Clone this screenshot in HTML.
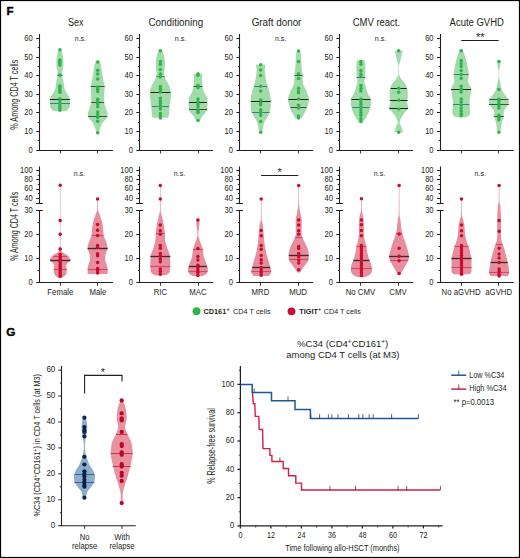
<!DOCTYPE html>
<html><head><meta charset="utf-8"><title>Figure</title>
<style>html,body{margin:0;padding:0;background:#fff;width:520px;height:558px;overflow:hidden;position:relative}</style>
</head><body>
<svg width="520" height="558" viewBox="0 0 520 558" style="position:absolute;left:0;top:0" font-family='"Liberation Sans", sans-serif'>
<rect x="0" y="0" width="520" height="558" fill="#ffffff"/>
<text x="6.5" y="15.1" font-size="11.5" text-anchor="start" font-weight="bold" fill="#000" stroke="#000" stroke-width="0.35">F</text>
<text x="6.3" y="336.3" font-size="11.8" text-anchor="start" font-weight="bold" fill="#000" stroke="#000" stroke-width="0.35">G</text>
<line x1="39.5" y1="34" x2="39.5" y2="150.7" stroke="#231f20" stroke-width="1.1"/>
<line x1="36.2" y1="150.5" x2="112.9" y2="150.5" stroke="#231f20" stroke-width="1.1"/>
<text x="32.8" y="152.6" font-size="8.3" text-anchor="end" font-weight="normal" fill="#231f20" textLength="4.23" lengthAdjust="spacingAndGlyphs">0</text>
<line x1="37.7" y1="140.5" x2="39.4" y2="140.5" stroke="#231f20" stroke-width="0.9"/>
<line x1="36.2" y1="131.5" x2="39.4" y2="131.5" stroke="#231f20" stroke-width="1.0"/>
<text x="32.8" y="134" font-size="8.3" text-anchor="end" font-weight="normal" fill="#231f20" textLength="8.45" lengthAdjust="spacingAndGlyphs">10</text>
<line x1="37.7" y1="122.5" x2="39.4" y2="122.5" stroke="#231f20" stroke-width="0.9"/>
<line x1="36.2" y1="112.5" x2="39.4" y2="112.5" stroke="#231f20" stroke-width="1.0"/>
<text x="32.8" y="115.4" font-size="8.3" text-anchor="end" font-weight="normal" fill="#231f20" textLength="8.45" lengthAdjust="spacingAndGlyphs">20</text>
<line x1="37.7" y1="103.5" x2="39.4" y2="103.5" stroke="#231f20" stroke-width="0.9"/>
<line x1="36.2" y1="94.5" x2="39.4" y2="94.5" stroke="#231f20" stroke-width="1.0"/>
<text x="32.8" y="96.8" font-size="8.3" text-anchor="end" font-weight="normal" fill="#231f20" textLength="8.45" lengthAdjust="spacingAndGlyphs">30</text>
<line x1="37.7" y1="85.5" x2="39.4" y2="85.5" stroke="#231f20" stroke-width="0.9"/>
<line x1="36.2" y1="75.5" x2="39.4" y2="75.5" stroke="#231f20" stroke-width="1.0"/>
<text x="32.8" y="78.2" font-size="8.3" text-anchor="end" font-weight="normal" fill="#231f20" textLength="8.45" lengthAdjust="spacingAndGlyphs">40</text>
<line x1="37.7" y1="66.5" x2="39.4" y2="66.5" stroke="#231f20" stroke-width="0.9"/>
<line x1="36.2" y1="57.5" x2="39.4" y2="57.5" stroke="#231f20" stroke-width="1.0"/>
<text x="32.8" y="59.6" font-size="8.3" text-anchor="end" font-weight="normal" fill="#231f20" textLength="8.45" lengthAdjust="spacingAndGlyphs">50</text>
<line x1="37.7" y1="47.5" x2="39.4" y2="47.5" stroke="#231f20" stroke-width="0.9"/>
<line x1="36.2" y1="38.5" x2="39.4" y2="38.5" stroke="#231f20" stroke-width="1.0"/>
<text x="32.8" y="41" font-size="8.3" text-anchor="end" font-weight="normal" fill="#231f20" textLength="8.45" lengthAdjust="spacingAndGlyphs">60</text>
<line x1="60.5" y1="150.2" x2="60.5" y2="153.4" stroke="#231f20" stroke-width="0.9"/>
<line x1="97.5" y1="150.2" x2="97.5" y2="153.4" stroke="#231f20" stroke-width="0.9"/>
<line x1="39.5" y1="166.5" x2="39.5" y2="203.5" stroke="#231f20" stroke-width="1.1"/>
<line x1="36" y1="203.5" x2="42.8" y2="203.5" stroke="#231f20" stroke-width="1.0"/>
<line x1="36.2" y1="198.5" x2="39.4" y2="198.5" stroke="#231f20" stroke-width="1.0"/>
<text x="32.8" y="200.8" font-size="8.3" text-anchor="end" font-weight="normal" fill="#231f20" textLength="8.45" lengthAdjust="spacingAndGlyphs">40</text>
<line x1="37.7" y1="193.5" x2="39.4" y2="193.5" stroke="#231f20" stroke-width="0.9"/>
<line x1="36.2" y1="189.5" x2="39.4" y2="189.5" stroke="#231f20" stroke-width="1.0"/>
<text x="32.8" y="191.47" font-size="8.3" text-anchor="end" font-weight="normal" fill="#231f20" textLength="8.45" lengthAdjust="spacingAndGlyphs">60</text>
<line x1="37.7" y1="184.5" x2="39.4" y2="184.5" stroke="#231f20" stroke-width="0.9"/>
<line x1="36.2" y1="179.5" x2="39.4" y2="179.5" stroke="#231f20" stroke-width="1.0"/>
<text x="32.8" y="182.13" font-size="8.3" text-anchor="end" font-weight="normal" fill="#231f20" textLength="8.45" lengthAdjust="spacingAndGlyphs">80</text>
<line x1="37.7" y1="175.5" x2="39.4" y2="175.5" stroke="#231f20" stroke-width="0.9"/>
<line x1="36.2" y1="170.5" x2="39.4" y2="170.5" stroke="#231f20" stroke-width="1.0"/>
<text x="32.8" y="172.8" font-size="8.3" text-anchor="end" font-weight="normal" fill="#231f20" textLength="12.68" lengthAdjust="spacingAndGlyphs">100</text>
<line x1="39.5" y1="210" x2="39.5" y2="283" stroke="#231f20" stroke-width="1.1"/>
<line x1="36" y1="210.5" x2="42.8" y2="210.5" stroke="#231f20" stroke-width="1.0"/>
<line x1="36.2" y1="282.5" x2="112.9" y2="282.5" stroke="#231f20" stroke-width="1.1"/>
<text x="32.8" y="284.9" font-size="8.3" text-anchor="end" font-weight="normal" fill="#231f20" textLength="4.23" lengthAdjust="spacingAndGlyphs">0</text>
<line x1="37.7" y1="270.5" x2="39.4" y2="270.5" stroke="#231f20" stroke-width="0.9"/>
<line x1="36.2" y1="258.5" x2="39.4" y2="258.5" stroke="#231f20" stroke-width="1.0"/>
<text x="32.8" y="260.9" font-size="8.3" text-anchor="end" font-weight="normal" fill="#231f20" textLength="8.45" lengthAdjust="spacingAndGlyphs">10</text>
<line x1="37.7" y1="246.5" x2="39.4" y2="246.5" stroke="#231f20" stroke-width="0.9"/>
<line x1="36.2" y1="234.5" x2="39.4" y2="234.5" stroke="#231f20" stroke-width="1.0"/>
<text x="32.8" y="236.9" font-size="8.3" text-anchor="end" font-weight="normal" fill="#231f20" textLength="8.45" lengthAdjust="spacingAndGlyphs">20</text>
<line x1="37.7" y1="222.5" x2="39.4" y2="222.5" stroke="#231f20" stroke-width="0.9"/>
<text x="32.8" y="212.9" font-size="8.3" text-anchor="end" font-weight="normal" fill="#231f20" textLength="8.45" lengthAdjust="spacingAndGlyphs">30</text>
<line x1="60.5" y1="282.5" x2="60.5" y2="285.7" stroke="#231f20" stroke-width="0.9"/>
<line x1="97.5" y1="282.5" x2="97.5" y2="285.7" stroke="#231f20" stroke-width="0.9"/>
<line x1="139.5" y1="34" x2="139.5" y2="150.7" stroke="#231f20" stroke-width="1.1"/>
<line x1="136.3" y1="150.5" x2="213" y2="150.5" stroke="#231f20" stroke-width="1.1"/>
<text x="132.9" y="152.6" font-size="8.3" text-anchor="end" font-weight="normal" fill="#231f20" textLength="4.23" lengthAdjust="spacingAndGlyphs">0</text>
<line x1="137.8" y1="140.5" x2="139.5" y2="140.5" stroke="#231f20" stroke-width="0.9"/>
<line x1="136.3" y1="131.5" x2="139.5" y2="131.5" stroke="#231f20" stroke-width="1.0"/>
<text x="132.9" y="134" font-size="8.3" text-anchor="end" font-weight="normal" fill="#231f20" textLength="8.45" lengthAdjust="spacingAndGlyphs">10</text>
<line x1="137.8" y1="122.5" x2="139.5" y2="122.5" stroke="#231f20" stroke-width="0.9"/>
<line x1="136.3" y1="112.5" x2="139.5" y2="112.5" stroke="#231f20" stroke-width="1.0"/>
<text x="132.9" y="115.4" font-size="8.3" text-anchor="end" font-weight="normal" fill="#231f20" textLength="8.45" lengthAdjust="spacingAndGlyphs">20</text>
<line x1="137.8" y1="103.5" x2="139.5" y2="103.5" stroke="#231f20" stroke-width="0.9"/>
<line x1="136.3" y1="94.5" x2="139.5" y2="94.5" stroke="#231f20" stroke-width="1.0"/>
<text x="132.9" y="96.8" font-size="8.3" text-anchor="end" font-weight="normal" fill="#231f20" textLength="8.45" lengthAdjust="spacingAndGlyphs">30</text>
<line x1="137.8" y1="85.5" x2="139.5" y2="85.5" stroke="#231f20" stroke-width="0.9"/>
<line x1="136.3" y1="75.5" x2="139.5" y2="75.5" stroke="#231f20" stroke-width="1.0"/>
<text x="132.9" y="78.2" font-size="8.3" text-anchor="end" font-weight="normal" fill="#231f20" textLength="8.45" lengthAdjust="spacingAndGlyphs">40</text>
<line x1="137.8" y1="66.5" x2="139.5" y2="66.5" stroke="#231f20" stroke-width="0.9"/>
<line x1="136.3" y1="57.5" x2="139.5" y2="57.5" stroke="#231f20" stroke-width="1.0"/>
<text x="132.9" y="59.6" font-size="8.3" text-anchor="end" font-weight="normal" fill="#231f20" textLength="8.45" lengthAdjust="spacingAndGlyphs">50</text>
<line x1="137.8" y1="47.5" x2="139.5" y2="47.5" stroke="#231f20" stroke-width="0.9"/>
<line x1="136.3" y1="38.5" x2="139.5" y2="38.5" stroke="#231f20" stroke-width="1.0"/>
<text x="132.9" y="41" font-size="8.3" text-anchor="end" font-weight="normal" fill="#231f20" textLength="8.45" lengthAdjust="spacingAndGlyphs">60</text>
<line x1="160.5" y1="150.2" x2="160.5" y2="153.4" stroke="#231f20" stroke-width="0.9"/>
<line x1="198.5" y1="150.2" x2="198.5" y2="153.4" stroke="#231f20" stroke-width="0.9"/>
<line x1="139.5" y1="166.5" x2="139.5" y2="203.5" stroke="#231f20" stroke-width="1.1"/>
<line x1="136.1" y1="203.5" x2="142.9" y2="203.5" stroke="#231f20" stroke-width="1.0"/>
<line x1="136.3" y1="198.5" x2="139.5" y2="198.5" stroke="#231f20" stroke-width="1.0"/>
<text x="132.9" y="200.8" font-size="8.3" text-anchor="end" font-weight="normal" fill="#231f20" textLength="8.45" lengthAdjust="spacingAndGlyphs">40</text>
<line x1="137.8" y1="193.5" x2="139.5" y2="193.5" stroke="#231f20" stroke-width="0.9"/>
<line x1="136.3" y1="189.5" x2="139.5" y2="189.5" stroke="#231f20" stroke-width="1.0"/>
<text x="132.9" y="191.47" font-size="8.3" text-anchor="end" font-weight="normal" fill="#231f20" textLength="8.45" lengthAdjust="spacingAndGlyphs">60</text>
<line x1="137.8" y1="184.5" x2="139.5" y2="184.5" stroke="#231f20" stroke-width="0.9"/>
<line x1="136.3" y1="179.5" x2="139.5" y2="179.5" stroke="#231f20" stroke-width="1.0"/>
<text x="132.9" y="182.13" font-size="8.3" text-anchor="end" font-weight="normal" fill="#231f20" textLength="8.45" lengthAdjust="spacingAndGlyphs">80</text>
<line x1="137.8" y1="175.5" x2="139.5" y2="175.5" stroke="#231f20" stroke-width="0.9"/>
<line x1="136.3" y1="170.5" x2="139.5" y2="170.5" stroke="#231f20" stroke-width="1.0"/>
<text x="132.9" y="172.8" font-size="8.3" text-anchor="end" font-weight="normal" fill="#231f20" textLength="12.68" lengthAdjust="spacingAndGlyphs">100</text>
<line x1="139.5" y1="210" x2="139.5" y2="283" stroke="#231f20" stroke-width="1.1"/>
<line x1="136.1" y1="210.5" x2="142.9" y2="210.5" stroke="#231f20" stroke-width="1.0"/>
<line x1="136.3" y1="282.5" x2="213" y2="282.5" stroke="#231f20" stroke-width="1.1"/>
<text x="132.9" y="284.9" font-size="8.3" text-anchor="end" font-weight="normal" fill="#231f20" textLength="4.23" lengthAdjust="spacingAndGlyphs">0</text>
<line x1="137.8" y1="270.5" x2="139.5" y2="270.5" stroke="#231f20" stroke-width="0.9"/>
<line x1="136.3" y1="258.5" x2="139.5" y2="258.5" stroke="#231f20" stroke-width="1.0"/>
<text x="132.9" y="260.9" font-size="8.3" text-anchor="end" font-weight="normal" fill="#231f20" textLength="8.45" lengthAdjust="spacingAndGlyphs">10</text>
<line x1="137.8" y1="246.5" x2="139.5" y2="246.5" stroke="#231f20" stroke-width="0.9"/>
<line x1="136.3" y1="234.5" x2="139.5" y2="234.5" stroke="#231f20" stroke-width="1.0"/>
<text x="132.9" y="236.9" font-size="8.3" text-anchor="end" font-weight="normal" fill="#231f20" textLength="8.45" lengthAdjust="spacingAndGlyphs">20</text>
<line x1="137.8" y1="222.5" x2="139.5" y2="222.5" stroke="#231f20" stroke-width="0.9"/>
<text x="132.9" y="212.9" font-size="8.3" text-anchor="end" font-weight="normal" fill="#231f20" textLength="8.45" lengthAdjust="spacingAndGlyphs">30</text>
<line x1="160.5" y1="282.5" x2="160.5" y2="285.7" stroke="#231f20" stroke-width="0.9"/>
<line x1="198.5" y1="282.5" x2="198.5" y2="285.7" stroke="#231f20" stroke-width="0.9"/>
<line x1="239.5" y1="34" x2="239.5" y2="150.7" stroke="#231f20" stroke-width="1.1"/>
<line x1="236.4" y1="150.5" x2="313.1" y2="150.5" stroke="#231f20" stroke-width="1.1"/>
<text x="233" y="152.6" font-size="8.3" text-anchor="end" font-weight="normal" fill="#231f20" textLength="4.23" lengthAdjust="spacingAndGlyphs">0</text>
<line x1="237.9" y1="140.5" x2="239.6" y2="140.5" stroke="#231f20" stroke-width="0.9"/>
<line x1="236.4" y1="131.5" x2="239.6" y2="131.5" stroke="#231f20" stroke-width="1.0"/>
<text x="233" y="134" font-size="8.3" text-anchor="end" font-weight="normal" fill="#231f20" textLength="8.45" lengthAdjust="spacingAndGlyphs">10</text>
<line x1="237.9" y1="122.5" x2="239.6" y2="122.5" stroke="#231f20" stroke-width="0.9"/>
<line x1="236.4" y1="112.5" x2="239.6" y2="112.5" stroke="#231f20" stroke-width="1.0"/>
<text x="233" y="115.4" font-size="8.3" text-anchor="end" font-weight="normal" fill="#231f20" textLength="8.45" lengthAdjust="spacingAndGlyphs">20</text>
<line x1="237.9" y1="103.5" x2="239.6" y2="103.5" stroke="#231f20" stroke-width="0.9"/>
<line x1="236.4" y1="94.5" x2="239.6" y2="94.5" stroke="#231f20" stroke-width="1.0"/>
<text x="233" y="96.8" font-size="8.3" text-anchor="end" font-weight="normal" fill="#231f20" textLength="8.45" lengthAdjust="spacingAndGlyphs">30</text>
<line x1="237.9" y1="85.5" x2="239.6" y2="85.5" stroke="#231f20" stroke-width="0.9"/>
<line x1="236.4" y1="75.5" x2="239.6" y2="75.5" stroke="#231f20" stroke-width="1.0"/>
<text x="233" y="78.2" font-size="8.3" text-anchor="end" font-weight="normal" fill="#231f20" textLength="8.45" lengthAdjust="spacingAndGlyphs">40</text>
<line x1="237.9" y1="66.5" x2="239.6" y2="66.5" stroke="#231f20" stroke-width="0.9"/>
<line x1="236.4" y1="57.5" x2="239.6" y2="57.5" stroke="#231f20" stroke-width="1.0"/>
<text x="233" y="59.6" font-size="8.3" text-anchor="end" font-weight="normal" fill="#231f20" textLength="8.45" lengthAdjust="spacingAndGlyphs">50</text>
<line x1="237.9" y1="47.5" x2="239.6" y2="47.5" stroke="#231f20" stroke-width="0.9"/>
<line x1="236.4" y1="38.5" x2="239.6" y2="38.5" stroke="#231f20" stroke-width="1.0"/>
<text x="233" y="41" font-size="8.3" text-anchor="end" font-weight="normal" fill="#231f20" textLength="8.45" lengthAdjust="spacingAndGlyphs">60</text>
<line x1="260.5" y1="150.2" x2="260.5" y2="153.4" stroke="#231f20" stroke-width="0.9"/>
<line x1="298.5" y1="150.2" x2="298.5" y2="153.4" stroke="#231f20" stroke-width="0.9"/>
<line x1="239.5" y1="166.5" x2="239.5" y2="203.5" stroke="#231f20" stroke-width="1.1"/>
<line x1="236.2" y1="203.5" x2="243" y2="203.5" stroke="#231f20" stroke-width="1.0"/>
<line x1="236.4" y1="198.5" x2="239.6" y2="198.5" stroke="#231f20" stroke-width="1.0"/>
<text x="233" y="200.8" font-size="8.3" text-anchor="end" font-weight="normal" fill="#231f20" textLength="8.45" lengthAdjust="spacingAndGlyphs">40</text>
<line x1="237.9" y1="193.5" x2="239.6" y2="193.5" stroke="#231f20" stroke-width="0.9"/>
<line x1="236.4" y1="189.5" x2="239.6" y2="189.5" stroke="#231f20" stroke-width="1.0"/>
<text x="233" y="191.47" font-size="8.3" text-anchor="end" font-weight="normal" fill="#231f20" textLength="8.45" lengthAdjust="spacingAndGlyphs">60</text>
<line x1="237.9" y1="184.5" x2="239.6" y2="184.5" stroke="#231f20" stroke-width="0.9"/>
<line x1="236.4" y1="179.5" x2="239.6" y2="179.5" stroke="#231f20" stroke-width="1.0"/>
<text x="233" y="182.13" font-size="8.3" text-anchor="end" font-weight="normal" fill="#231f20" textLength="8.45" lengthAdjust="spacingAndGlyphs">80</text>
<line x1="237.9" y1="175.5" x2="239.6" y2="175.5" stroke="#231f20" stroke-width="0.9"/>
<line x1="236.4" y1="170.5" x2="239.6" y2="170.5" stroke="#231f20" stroke-width="1.0"/>
<text x="233" y="172.8" font-size="8.3" text-anchor="end" font-weight="normal" fill="#231f20" textLength="12.68" lengthAdjust="spacingAndGlyphs">100</text>
<line x1="239.5" y1="210" x2="239.5" y2="283" stroke="#231f20" stroke-width="1.1"/>
<line x1="236.2" y1="210.5" x2="243" y2="210.5" stroke="#231f20" stroke-width="1.0"/>
<line x1="236.4" y1="282.5" x2="313.1" y2="282.5" stroke="#231f20" stroke-width="1.1"/>
<text x="233" y="284.9" font-size="8.3" text-anchor="end" font-weight="normal" fill="#231f20" textLength="4.23" lengthAdjust="spacingAndGlyphs">0</text>
<line x1="237.9" y1="270.5" x2="239.6" y2="270.5" stroke="#231f20" stroke-width="0.9"/>
<line x1="236.4" y1="258.5" x2="239.6" y2="258.5" stroke="#231f20" stroke-width="1.0"/>
<text x="233" y="260.9" font-size="8.3" text-anchor="end" font-weight="normal" fill="#231f20" textLength="8.45" lengthAdjust="spacingAndGlyphs">10</text>
<line x1="237.9" y1="246.5" x2="239.6" y2="246.5" stroke="#231f20" stroke-width="0.9"/>
<line x1="236.4" y1="234.5" x2="239.6" y2="234.5" stroke="#231f20" stroke-width="1.0"/>
<text x="233" y="236.9" font-size="8.3" text-anchor="end" font-weight="normal" fill="#231f20" textLength="8.45" lengthAdjust="spacingAndGlyphs">20</text>
<line x1="237.9" y1="222.5" x2="239.6" y2="222.5" stroke="#231f20" stroke-width="0.9"/>
<text x="233" y="212.9" font-size="8.3" text-anchor="end" font-weight="normal" fill="#231f20" textLength="8.45" lengthAdjust="spacingAndGlyphs">30</text>
<line x1="260.5" y1="282.5" x2="260.5" y2="285.7" stroke="#231f20" stroke-width="0.9"/>
<line x1="298.5" y1="282.5" x2="298.5" y2="285.7" stroke="#231f20" stroke-width="0.9"/>
<line x1="339.5" y1="34" x2="339.5" y2="150.7" stroke="#231f20" stroke-width="1.1"/>
<line x1="336.3" y1="150.5" x2="413" y2="150.5" stroke="#231f20" stroke-width="1.1"/>
<text x="332.9" y="152.6" font-size="8.3" text-anchor="end" font-weight="normal" fill="#231f20" textLength="4.23" lengthAdjust="spacingAndGlyphs">0</text>
<line x1="337.8" y1="140.5" x2="339.5" y2="140.5" stroke="#231f20" stroke-width="0.9"/>
<line x1="336.3" y1="131.5" x2="339.5" y2="131.5" stroke="#231f20" stroke-width="1.0"/>
<text x="332.9" y="134" font-size="8.3" text-anchor="end" font-weight="normal" fill="#231f20" textLength="8.45" lengthAdjust="spacingAndGlyphs">10</text>
<line x1="337.8" y1="122.5" x2="339.5" y2="122.5" stroke="#231f20" stroke-width="0.9"/>
<line x1="336.3" y1="112.5" x2="339.5" y2="112.5" stroke="#231f20" stroke-width="1.0"/>
<text x="332.9" y="115.4" font-size="8.3" text-anchor="end" font-weight="normal" fill="#231f20" textLength="8.45" lengthAdjust="spacingAndGlyphs">20</text>
<line x1="337.8" y1="103.5" x2="339.5" y2="103.5" stroke="#231f20" stroke-width="0.9"/>
<line x1="336.3" y1="94.5" x2="339.5" y2="94.5" stroke="#231f20" stroke-width="1.0"/>
<text x="332.9" y="96.8" font-size="8.3" text-anchor="end" font-weight="normal" fill="#231f20" textLength="8.45" lengthAdjust="spacingAndGlyphs">30</text>
<line x1="337.8" y1="85.5" x2="339.5" y2="85.5" stroke="#231f20" stroke-width="0.9"/>
<line x1="336.3" y1="75.5" x2="339.5" y2="75.5" stroke="#231f20" stroke-width="1.0"/>
<text x="332.9" y="78.2" font-size="8.3" text-anchor="end" font-weight="normal" fill="#231f20" textLength="8.45" lengthAdjust="spacingAndGlyphs">40</text>
<line x1="337.8" y1="66.5" x2="339.5" y2="66.5" stroke="#231f20" stroke-width="0.9"/>
<line x1="336.3" y1="57.5" x2="339.5" y2="57.5" stroke="#231f20" stroke-width="1.0"/>
<text x="332.9" y="59.6" font-size="8.3" text-anchor="end" font-weight="normal" fill="#231f20" textLength="8.45" lengthAdjust="spacingAndGlyphs">50</text>
<line x1="337.8" y1="47.5" x2="339.5" y2="47.5" stroke="#231f20" stroke-width="0.9"/>
<line x1="336.3" y1="38.5" x2="339.5" y2="38.5" stroke="#231f20" stroke-width="1.0"/>
<text x="332.9" y="41" font-size="8.3" text-anchor="end" font-weight="normal" fill="#231f20" textLength="8.45" lengthAdjust="spacingAndGlyphs">60</text>
<line x1="360.5" y1="150.2" x2="360.5" y2="153.4" stroke="#231f20" stroke-width="0.9"/>
<line x1="398.5" y1="150.2" x2="398.5" y2="153.4" stroke="#231f20" stroke-width="0.9"/>
<line x1="339.5" y1="166.5" x2="339.5" y2="203.5" stroke="#231f20" stroke-width="1.1"/>
<line x1="336.1" y1="203.5" x2="342.9" y2="203.5" stroke="#231f20" stroke-width="1.0"/>
<line x1="336.3" y1="198.5" x2="339.5" y2="198.5" stroke="#231f20" stroke-width="1.0"/>
<text x="332.9" y="200.8" font-size="8.3" text-anchor="end" font-weight="normal" fill="#231f20" textLength="8.45" lengthAdjust="spacingAndGlyphs">40</text>
<line x1="337.8" y1="193.5" x2="339.5" y2="193.5" stroke="#231f20" stroke-width="0.9"/>
<line x1="336.3" y1="189.5" x2="339.5" y2="189.5" stroke="#231f20" stroke-width="1.0"/>
<text x="332.9" y="191.47" font-size="8.3" text-anchor="end" font-weight="normal" fill="#231f20" textLength="8.45" lengthAdjust="spacingAndGlyphs">60</text>
<line x1="337.8" y1="184.5" x2="339.5" y2="184.5" stroke="#231f20" stroke-width="0.9"/>
<line x1="336.3" y1="179.5" x2="339.5" y2="179.5" stroke="#231f20" stroke-width="1.0"/>
<text x="332.9" y="182.13" font-size="8.3" text-anchor="end" font-weight="normal" fill="#231f20" textLength="8.45" lengthAdjust="spacingAndGlyphs">80</text>
<line x1="337.8" y1="175.5" x2="339.5" y2="175.5" stroke="#231f20" stroke-width="0.9"/>
<line x1="336.3" y1="170.5" x2="339.5" y2="170.5" stroke="#231f20" stroke-width="1.0"/>
<text x="332.9" y="172.8" font-size="8.3" text-anchor="end" font-weight="normal" fill="#231f20" textLength="12.68" lengthAdjust="spacingAndGlyphs">100</text>
<line x1="339.5" y1="210" x2="339.5" y2="283" stroke="#231f20" stroke-width="1.1"/>
<line x1="336.1" y1="210.5" x2="342.9" y2="210.5" stroke="#231f20" stroke-width="1.0"/>
<line x1="336.3" y1="282.5" x2="413" y2="282.5" stroke="#231f20" stroke-width="1.1"/>
<text x="332.9" y="284.9" font-size="8.3" text-anchor="end" font-weight="normal" fill="#231f20" textLength="4.23" lengthAdjust="spacingAndGlyphs">0</text>
<line x1="337.8" y1="270.5" x2="339.5" y2="270.5" stroke="#231f20" stroke-width="0.9"/>
<line x1="336.3" y1="258.5" x2="339.5" y2="258.5" stroke="#231f20" stroke-width="1.0"/>
<text x="332.9" y="260.9" font-size="8.3" text-anchor="end" font-weight="normal" fill="#231f20" textLength="8.45" lengthAdjust="spacingAndGlyphs">10</text>
<line x1="337.8" y1="246.5" x2="339.5" y2="246.5" stroke="#231f20" stroke-width="0.9"/>
<line x1="336.3" y1="234.5" x2="339.5" y2="234.5" stroke="#231f20" stroke-width="1.0"/>
<text x="332.9" y="236.9" font-size="8.3" text-anchor="end" font-weight="normal" fill="#231f20" textLength="8.45" lengthAdjust="spacingAndGlyphs">20</text>
<line x1="337.8" y1="222.5" x2="339.5" y2="222.5" stroke="#231f20" stroke-width="0.9"/>
<text x="332.9" y="212.9" font-size="8.3" text-anchor="end" font-weight="normal" fill="#231f20" textLength="8.45" lengthAdjust="spacingAndGlyphs">30</text>
<line x1="360.5" y1="282.5" x2="360.5" y2="285.7" stroke="#231f20" stroke-width="0.9"/>
<line x1="398.5" y1="282.5" x2="398.5" y2="285.7" stroke="#231f20" stroke-width="0.9"/>
<line x1="440.5" y1="34" x2="440.5" y2="150.7" stroke="#231f20" stroke-width="1.1"/>
<line x1="437" y1="150.5" x2="513.7" y2="150.5" stroke="#231f20" stroke-width="1.1"/>
<text x="433.6" y="152.6" font-size="8.3" text-anchor="end" font-weight="normal" fill="#231f20" textLength="4.23" lengthAdjust="spacingAndGlyphs">0</text>
<line x1="438.5" y1="140.5" x2="440.2" y2="140.5" stroke="#231f20" stroke-width="0.9"/>
<line x1="437" y1="131.5" x2="440.2" y2="131.5" stroke="#231f20" stroke-width="1.0"/>
<text x="433.6" y="134" font-size="8.3" text-anchor="end" font-weight="normal" fill="#231f20" textLength="8.45" lengthAdjust="spacingAndGlyphs">10</text>
<line x1="438.5" y1="122.5" x2="440.2" y2="122.5" stroke="#231f20" stroke-width="0.9"/>
<line x1="437" y1="112.5" x2="440.2" y2="112.5" stroke="#231f20" stroke-width="1.0"/>
<text x="433.6" y="115.4" font-size="8.3" text-anchor="end" font-weight="normal" fill="#231f20" textLength="8.45" lengthAdjust="spacingAndGlyphs">20</text>
<line x1="438.5" y1="103.5" x2="440.2" y2="103.5" stroke="#231f20" stroke-width="0.9"/>
<line x1="437" y1="94.5" x2="440.2" y2="94.5" stroke="#231f20" stroke-width="1.0"/>
<text x="433.6" y="96.8" font-size="8.3" text-anchor="end" font-weight="normal" fill="#231f20" textLength="8.45" lengthAdjust="spacingAndGlyphs">30</text>
<line x1="438.5" y1="85.5" x2="440.2" y2="85.5" stroke="#231f20" stroke-width="0.9"/>
<line x1="437" y1="75.5" x2="440.2" y2="75.5" stroke="#231f20" stroke-width="1.0"/>
<text x="433.6" y="78.2" font-size="8.3" text-anchor="end" font-weight="normal" fill="#231f20" textLength="8.45" lengthAdjust="spacingAndGlyphs">40</text>
<line x1="438.5" y1="66.5" x2="440.2" y2="66.5" stroke="#231f20" stroke-width="0.9"/>
<line x1="437" y1="57.5" x2="440.2" y2="57.5" stroke="#231f20" stroke-width="1.0"/>
<text x="433.6" y="59.6" font-size="8.3" text-anchor="end" font-weight="normal" fill="#231f20" textLength="8.45" lengthAdjust="spacingAndGlyphs">50</text>
<line x1="438.5" y1="47.5" x2="440.2" y2="47.5" stroke="#231f20" stroke-width="0.9"/>
<line x1="437" y1="38.5" x2="440.2" y2="38.5" stroke="#231f20" stroke-width="1.0"/>
<text x="433.6" y="41" font-size="8.3" text-anchor="end" font-weight="normal" fill="#231f20" textLength="8.45" lengthAdjust="spacingAndGlyphs">60</text>
<line x1="461.5" y1="150.2" x2="461.5" y2="153.4" stroke="#231f20" stroke-width="0.9"/>
<line x1="498.5" y1="150.2" x2="498.5" y2="153.4" stroke="#231f20" stroke-width="0.9"/>
<line x1="440.5" y1="166.5" x2="440.5" y2="203.5" stroke="#231f20" stroke-width="1.1"/>
<line x1="436.8" y1="203.5" x2="443.6" y2="203.5" stroke="#231f20" stroke-width="1.0"/>
<line x1="437" y1="198.5" x2="440.2" y2="198.5" stroke="#231f20" stroke-width="1.0"/>
<text x="433.6" y="200.8" font-size="8.3" text-anchor="end" font-weight="normal" fill="#231f20" textLength="8.45" lengthAdjust="spacingAndGlyphs">40</text>
<line x1="438.5" y1="193.5" x2="440.2" y2="193.5" stroke="#231f20" stroke-width="0.9"/>
<line x1="437" y1="189.5" x2="440.2" y2="189.5" stroke="#231f20" stroke-width="1.0"/>
<text x="433.6" y="191.47" font-size="8.3" text-anchor="end" font-weight="normal" fill="#231f20" textLength="8.45" lengthAdjust="spacingAndGlyphs">60</text>
<line x1="438.5" y1="184.5" x2="440.2" y2="184.5" stroke="#231f20" stroke-width="0.9"/>
<line x1="437" y1="179.5" x2="440.2" y2="179.5" stroke="#231f20" stroke-width="1.0"/>
<text x="433.6" y="182.13" font-size="8.3" text-anchor="end" font-weight="normal" fill="#231f20" textLength="8.45" lengthAdjust="spacingAndGlyphs">80</text>
<line x1="438.5" y1="175.5" x2="440.2" y2="175.5" stroke="#231f20" stroke-width="0.9"/>
<line x1="437" y1="170.5" x2="440.2" y2="170.5" stroke="#231f20" stroke-width="1.0"/>
<text x="433.6" y="172.8" font-size="8.3" text-anchor="end" font-weight="normal" fill="#231f20" textLength="12.68" lengthAdjust="spacingAndGlyphs">100</text>
<line x1="440.5" y1="210" x2="440.5" y2="283" stroke="#231f20" stroke-width="1.1"/>
<line x1="436.8" y1="210.5" x2="443.6" y2="210.5" stroke="#231f20" stroke-width="1.0"/>
<line x1="437" y1="282.5" x2="513.7" y2="282.5" stroke="#231f20" stroke-width="1.1"/>
<text x="433.6" y="284.9" font-size="8.3" text-anchor="end" font-weight="normal" fill="#231f20" textLength="4.23" lengthAdjust="spacingAndGlyphs">0</text>
<line x1="438.5" y1="270.5" x2="440.2" y2="270.5" stroke="#231f20" stroke-width="0.9"/>
<line x1="437" y1="258.5" x2="440.2" y2="258.5" stroke="#231f20" stroke-width="1.0"/>
<text x="433.6" y="260.9" font-size="8.3" text-anchor="end" font-weight="normal" fill="#231f20" textLength="8.45" lengthAdjust="spacingAndGlyphs">10</text>
<line x1="438.5" y1="246.5" x2="440.2" y2="246.5" stroke="#231f20" stroke-width="0.9"/>
<line x1="437" y1="234.5" x2="440.2" y2="234.5" stroke="#231f20" stroke-width="1.0"/>
<text x="433.6" y="236.9" font-size="8.3" text-anchor="end" font-weight="normal" fill="#231f20" textLength="8.45" lengthAdjust="spacingAndGlyphs">20</text>
<line x1="438.5" y1="222.5" x2="440.2" y2="222.5" stroke="#231f20" stroke-width="0.9"/>
<text x="433.6" y="212.9" font-size="8.3" text-anchor="end" font-weight="normal" fill="#231f20" textLength="8.45" lengthAdjust="spacingAndGlyphs">30</text>
<line x1="461.5" y1="282.5" x2="461.5" y2="285.7" stroke="#231f20" stroke-width="0.9"/>
<line x1="498.5" y1="282.5" x2="498.5" y2="285.7" stroke="#231f20" stroke-width="0.9"/>
<text x="75.75" y="25.6" font-size="10" text-anchor="middle" font-weight="normal" fill="#231f20" textLength="15.5" lengthAdjust="spacingAndGlyphs">Sex</text>
<text x="175.8" y="25.6" font-size="10" text-anchor="middle" font-weight="normal" fill="#231f20" textLength="54.6" lengthAdjust="spacingAndGlyphs">Conditioning</text>
<text x="276.55" y="25.6" font-size="10" text-anchor="middle" font-weight="normal" fill="#231f20" textLength="49.7" lengthAdjust="spacingAndGlyphs">Graft donor</text>
<text x="376.4" y="25.6" font-size="10" text-anchor="middle" font-weight="normal" fill="#231f20" textLength="47.4" lengthAdjust="spacingAndGlyphs">CMV react.</text>
<text x="476.75" y="25.6" font-size="10" text-anchor="middle" font-weight="normal" fill="#231f20" textLength="54.3" lengthAdjust="spacingAndGlyphs">Acute GVHD</text>
<text transform="translate(18.4 94.7) rotate(-90)" font-size="10.8" text-anchor="middle" fill="#231f20" textLength="70" lengthAdjust="spacingAndGlyphs">% Among CD4 T cells</text>
<text transform="translate(18.4 226.3) rotate(-90)" font-size="10.8" text-anchor="middle" fill="#231f20" textLength="69" lengthAdjust="spacingAndGlyphs">% Among CD4 T cells</text>
<text x="80.4" y="40.7" font-size="7" text-anchor="middle" font-weight="normal" fill="#231f20">n.s.</text>
<text x="79.4" y="175.7" font-size="7" text-anchor="middle" font-weight="normal" fill="#231f20">n.s.</text>
<text x="180.5" y="40.7" font-size="7" text-anchor="middle" font-weight="normal" fill="#231f20">n.s.</text>
<text x="179.5" y="175.7" font-size="7" text-anchor="middle" font-weight="normal" fill="#231f20">n.s.</text>
<text x="280.6" y="40.7" font-size="7" text-anchor="middle" font-weight="normal" fill="#231f20">n.s.</text>
<text x="380.5" y="40.7" font-size="7" text-anchor="middle" font-weight="normal" fill="#231f20">n.s.</text>
<text x="379.5" y="175.7" font-size="7" text-anchor="middle" font-weight="normal" fill="#231f20">n.s.</text>
<text x="480.2" y="175.7" font-size="7" text-anchor="middle" font-weight="normal" fill="#231f20">n.s.</text>
<line x1="461.2" y1="40.5" x2="498.6" y2="40.5" stroke="#231f20" stroke-width="1.0"/>
<text x="480.3" y="40.6" font-size="11" text-anchor="middle" font-weight="normal" fill="#231f20">**</text>
<line x1="261.1" y1="175.5" x2="298.4" y2="175.5" stroke="#231f20" stroke-width="1.0"/>
<text x="279.7" y="175.5" font-size="11" text-anchor="middle" font-weight="normal" fill="#231f20">*</text>
<text x="60.3" y="294.6" font-size="8.6" text-anchor="middle" font-weight="normal" fill="#231f20" textLength="26.01" lengthAdjust="spacingAndGlyphs">Female</text>
<text x="97.9" y="294.6" font-size="8.6" text-anchor="middle" font-weight="normal" fill="#231f20" textLength="16.91" lengthAdjust="spacingAndGlyphs">Male</text>
<text x="160.4" y="294.6" font-size="8.6" text-anchor="middle" font-weight="normal" fill="#231f20" textLength="13.43" lengthAdjust="spacingAndGlyphs">RIC</text>
<text x="198" y="294.6" font-size="8.6" text-anchor="middle" font-weight="normal" fill="#231f20" textLength="17.33" lengthAdjust="spacingAndGlyphs">MAC</text>
<text x="260.5" y="294.6" font-size="8.6" text-anchor="middle" font-weight="normal" fill="#231f20" textLength="17.76" lengthAdjust="spacingAndGlyphs">MRD</text>
<text x="298.1" y="294.6" font-size="8.6" text-anchor="middle" font-weight="normal" fill="#231f20" textLength="17.76" lengthAdjust="spacingAndGlyphs">MUD</text>
<text x="360.4" y="294.6" font-size="8.6" text-anchor="middle" font-weight="normal" fill="#231f20" textLength="29.47" lengthAdjust="spacingAndGlyphs">No CMV</text>
<text x="398" y="294.6" font-size="8.6" text-anchor="middle" font-weight="normal" fill="#231f20" textLength="17.33" lengthAdjust="spacingAndGlyphs">CMV</text>
<text x="461.1" y="294.6" font-size="8.6" text-anchor="middle" font-weight="normal" fill="#231f20" textLength="39.01" lengthAdjust="spacingAndGlyphs">No aGVHD</text>
<text x="498.7" y="294.6" font-size="8.6" text-anchor="middle" font-weight="normal" fill="#231f20" textLength="26.87" lengthAdjust="spacingAndGlyphs">aGVHD</text>
<circle cx="196.5" cy="311.2" r="3.9" fill="#2fb34c"/>
<text x="203.6" y="313.9" font-size="7.6" text-anchor="start" font-weight="bold" fill="#231f20" textLength="22.6" lengthAdjust="spacingAndGlyphs">CD161</text>
<text x="226.6" y="310.8" font-size="5.5" text-anchor="start" font-weight="bold" fill="#231f20">+</text>
<text x="233" y="313.9" font-size="7.6" text-anchor="start" font-weight="normal" fill="#231f20" textLength="37.6" lengthAdjust="spacingAndGlyphs">CD4 T cells</text>
<circle cx="291.5" cy="311.3" r="3.9" fill="#c8102e"/>
<text x="299.2" y="313.9" font-size="7.6" text-anchor="start" font-weight="bold" fill="#231f20" textLength="18.7" lengthAdjust="spacingAndGlyphs">TIGIT</text>
<text x="318.1" y="310.8" font-size="5.5" text-anchor="start" font-weight="bold" fill="#231f20">+</text>
<text x="323.7" y="313.9" font-size="7.6" text-anchor="start" font-weight="normal" fill="#231f20" textLength="37.1" lengthAdjust="spacingAndGlyphs">CD4 T cells</text>
<path d="M61.4 50 L61.61 50.76 L61.83 51.52 L62.04 52.28 L62.24 53.04 L62.4 53.8 L62.53 54.48 L62.65 55.16 L62.78 55.85 L62.9 56.53 L63.02 57.21 L63.12 57.89 L63.22 58.57 L63.29 59.25 L63.35 59.94 L63.39 60.62 L63.4 61.3 L63.4 62.01 L63.4 62.73 L63.4 63.44 L63.4 64.16 L63.4 64.87 L63.4 65.59 L63.4 66.3 L63.35 67.01 L63.21 67.73 L63.03 68.44 L62.83 69.16 L62.63 69.87 L62.48 70.59 L62.4 71.3 L62.37 72.06 L62.34 72.82 L62.32 73.58 L62.3 74.34 L62.3 75.1 L62.33 75.8 L62.4 76.5 L62.51 77.2 L62.64 77.9 L62.8 78.6 L62.96 79.3 L63.12 80 L63.27 80.7 L63.4 81.4 L63.51 82.1 L63.61 82.8 L63.71 83.5 L63.8 84.2 L63.9 84.9 L64 85.6 L64.12 86.3 L64.25 87 L64.4 87.7 L64.59 88.41 L64.82 89.13 L65.08 89.84 L65.38 90.56 L65.7 91.27 L66.04 91.99 L66.4 92.7 L66.86 93.44 L67.42 94.18 L68 94.92 L68.52 95.66 L68.9 96.4 L69.19 97.16 L69.46 97.92 L69.69 98.68 L69.84 99.44 L69.9 100.2 L69.9 100.91 L69.9 101.63 L69.9 102.34 L69.9 103.06 L69.9 103.77 L69.9 104.49 L69.9 105.2 L69.82 105.96 L69.59 106.72 L69.26 107.48 L68.85 108.24 L68.4 109 L67.51 109.95 L66.4 110.9 L53.4 110.9 L52.29 109.95 L51.4 109 L50.95 108.24 L50.54 107.48 L50.21 106.72 L49.98 105.96 L49.9 105.2 L49.9 104.49 L49.9 103.77 L49.9 103.06 L49.9 102.34 L49.9 101.63 L49.9 100.91 L49.9 100.2 L49.96 99.44 L50.11 98.68 L50.34 97.92 L50.61 97.16 L50.9 96.4 L51.28 95.66 L51.8 94.92 L52.38 94.18 L52.94 93.44 L53.4 92.7 L53.76 91.99 L54.1 91.27 L54.42 90.56 L54.72 89.84 L54.98 89.13 L55.21 88.41 L55.4 87.7 L55.55 87 L55.68 86.3 L55.8 85.6 L55.9 84.9 L56 84.2 L56.09 83.5 L56.19 82.8 L56.29 82.1 L56.4 81.4 L56.53 80.7 L56.68 80 L56.84 79.3 L57 78.6 L57.16 77.9 L57.29 77.2 L57.4 76.5 L57.47 75.8 L57.5 75.1 L57.5 74.34 L57.48 73.58 L57.46 72.82 L57.43 72.06 L57.4 71.3 L57.32 70.59 L57.17 69.87 L56.97 69.16 L56.77 68.44 L56.59 67.73 L56.45 67.01 L56.4 66.3 L56.4 65.59 L56.4 64.87 L56.4 64.16 L56.4 63.44 L56.4 62.73 L56.4 62.01 L56.4 61.3 L56.41 60.62 L56.45 59.94 L56.51 59.25 L56.58 58.57 L56.68 57.89 L56.78 57.21 L56.9 56.53 L57.02 55.85 L57.15 55.16 L57.27 54.48 L57.4 53.8 L57.56 53.04 L57.76 52.28 L57.97 51.52 L58.19 50.76 L58.4 50Z" fill="#a0dba8"/>
<line x1="49.9" y1="99.5" x2="69.9" y2="99.5" stroke="#232323" stroke-width="1.0"/>
<line x1="49.9" y1="103.5" x2="69.9" y2="103.5" stroke="#3d7b92" stroke-width="1.0"/>
<line x1="57.1" y1="75.5" x2="62.7" y2="75.5" stroke="#3d7b92" stroke-width="1.0"/>
<circle cx="59.9" cy="49.8" r="1.75" fill="#2fb34c"/>
<circle cx="59.9" cy="60" r="1.75" fill="#2fb34c"/>
<circle cx="59.9" cy="61.5" r="1.75" fill="#2fb34c"/>
<circle cx="59.9" cy="63" r="1.75" fill="#2fb34c"/>
<circle cx="59.9" cy="65" r="1.75" fill="#2fb34c"/>
<circle cx="59.9" cy="75.1" r="1.75" fill="#2fb34c"/>
<circle cx="59.9" cy="85.9" r="1.75" fill="#2fb34c"/>
<circle cx="59.9" cy="88" r="1.75" fill="#2fb34c"/>
<circle cx="59.9" cy="90.2" r="1.75" fill="#2fb34c"/>
<circle cx="59.9" cy="92.3" r="1.75" fill="#2fb34c"/>
<circle cx="59.9" cy="98.8" r="1.75" fill="#2fb34c"/>
<circle cx="59.9" cy="101" r="1.75" fill="#2fb34c"/>
<circle cx="59.9" cy="103.8" r="1.75" fill="#2fb34c"/>
<circle cx="59.9" cy="106" r="1.75" fill="#2fb34c"/>
<circle cx="59.9" cy="108.1" r="1.75" fill="#2fb34c"/>
<circle cx="59.9" cy="110.2" r="1.75" fill="#2fb34c"/>
<path d="M99.7 60.9 L99.89 61.64 L100.09 62.38 L100.3 63.11 L100.5 63.85 L100.69 64.59 L100.88 65.33 L101.05 66.06 L101.2 66.8 L101.33 67.49 L101.44 68.17 L101.55 68.86 L101.65 69.55 L101.75 70.23 L101.84 70.92 L101.93 71.61 L102.02 72.29 L102.1 72.98 L102.19 73.67 L102.28 74.35 L102.38 75.04 L102.48 75.73 L102.59 76.41 L102.7 77.1 L102.83 77.83 L102.97 78.56 L103.13 79.29 L103.28 80.02 L103.44 80.75 L103.6 81.48 L103.76 82.21 L103.91 82.94 L104.06 83.67 L104.2 84.4 L104.35 85.15 L104.52 85.9 L104.65 86.65 L104.7 87.4 L104.69 88.13 L104.65 88.86 L104.59 89.59 L104.52 90.32 L104.45 91.05 L104.38 91.78 L104.31 92.51 L104.25 93.24 L104.21 93.97 L104.2 94.7 L104.2 95.43 L104.2 96.16 L104.2 96.89 L104.2 97.62 L104.2 98.35 L104.2 99.08 L104.2 99.81 L104.2 100.54 L104.2 101.27 L104.2 102 L104.23 102.67 L104.31 103.35 L104.44 104.02 L104.61 104.69 L104.81 105.36 L105.03 106.04 L105.27 106.71 L105.51 107.38 L105.75 108.05 L105.98 108.73 L106.2 109.4 L106.47 110.13 L106.79 110.87 L107.12 111.6 L107.41 112.33 L107.62 113.07 L107.7 113.8 L107.66 114.55 L107.55 115.3 L107.39 116.05 L107.2 116.8 L106.91 117.52 L106.44 118.25 L105.84 118.97 L105.16 119.7 L104.46 120.42 L103.78 121.15 L103.18 121.88 L102.7 122.6 L102.31 123.34 L101.96 124.07 L101.63 124.81 L101.32 125.55 L101.03 126.29 L100.75 127.03 L100.48 127.76 L100.2 128.5 L99.93 129.23 L99.68 129.97 L99.43 130.7 L99.19 131.43 L98.95 132.17 L98.7 132.9 L96.7 132.9 L96.45 132.17 L96.21 131.43 L95.97 130.7 L95.72 129.97 L95.47 129.23 L95.2 128.5 L94.92 127.76 L94.65 127.03 L94.37 126.29 L94.08 125.55 L93.77 124.81 L93.44 124.07 L93.09 123.34 L92.7 122.6 L92.22 121.88 L91.62 121.15 L90.94 120.42 L90.24 119.7 L89.56 118.97 L88.96 118.25 L88.49 117.52 L88.2 116.8 L88.01 116.05 L87.85 115.3 L87.74 114.55 L87.7 113.8 L87.78 113.07 L87.99 112.33 L88.28 111.6 L88.61 110.87 L88.93 110.13 L89.2 109.4 L89.42 108.73 L89.65 108.05 L89.89 107.38 L90.13 106.71 L90.37 106.04 L90.59 105.36 L90.79 104.69 L90.96 104.02 L91.09 103.35 L91.17 102.67 L91.2 102 L91.2 101.27 L91.2 100.54 L91.2 99.81 L91.2 99.08 L91.2 98.35 L91.2 97.62 L91.2 96.89 L91.2 96.16 L91.2 95.43 L91.2 94.7 L91.19 93.97 L91.15 93.24 L91.09 92.51 L91.02 91.78 L90.95 91.05 L90.88 90.32 L90.81 89.59 L90.75 88.86 L90.71 88.13 L90.7 87.4 L90.75 86.65 L90.88 85.9 L91.05 85.15 L91.2 84.4 L91.34 83.67 L91.49 82.94 L91.64 82.21 L91.8 81.48 L91.96 80.75 L92.12 80.02 L92.27 79.29 L92.43 78.56 L92.57 77.83 L92.7 77.1 L92.81 76.41 L92.92 75.73 L93.02 75.04 L93.12 74.35 L93.21 73.67 L93.3 72.98 L93.38 72.29 L93.47 71.61 L93.56 70.92 L93.65 70.23 L93.75 69.55 L93.85 68.86 L93.96 68.17 L94.07 67.49 L94.2 66.8 L94.35 66.06 L94.52 65.33 L94.71 64.59 L94.9 63.85 L95.1 63.11 L95.31 62.38 L95.51 61.64 L95.7 60.9Z" fill="#a0dba8"/>
<line x1="90.7" y1="86.5" x2="104.7" y2="86.5" stroke="#454a46" stroke-width="1.0"/>
<line x1="91.2" y1="102.5" x2="104.2" y2="102.5" stroke="#454a46" stroke-width="1.0"/>
<line x1="88.2" y1="116.5" x2="107.2" y2="116.5" stroke="#454a46" stroke-width="1.0"/>
<circle cx="97.7" cy="61.9" r="1.75" fill="#2fb34c"/>
<circle cx="97.7" cy="70.2" r="1.75" fill="#2fb34c"/>
<circle cx="97.7" cy="74" r="1.75" fill="#2fb34c"/>
<circle cx="97.7" cy="79" r="1.75" fill="#2fb34c"/>
<circle cx="97.7" cy="87" r="1.75" fill="#2fb34c"/>
<circle cx="97.7" cy="89.3" r="1.75" fill="#2fb34c"/>
<circle cx="97.7" cy="91.6" r="1.75" fill="#2fb34c"/>
<circle cx="97.7" cy="99.2" r="1.75" fill="#2fb34c"/>
<circle cx="97.7" cy="101.5" r="1.75" fill="#2fb34c"/>
<circle cx="97.7" cy="103.7" r="1.75" fill="#2fb34c"/>
<circle cx="97.7" cy="106.8" r="1.75" fill="#2fb34c"/>
<circle cx="97.7" cy="112.1" r="1.75" fill="#2fb34c"/>
<circle cx="97.7" cy="114.4" r="1.75" fill="#2fb34c"/>
<circle cx="97.7" cy="117.5" r="1.75" fill="#2fb34c"/>
<circle cx="97.7" cy="121.3" r="1.75" fill="#2fb34c"/>
<circle cx="97.7" cy="132.7" r="1.75" fill="#2fb34c"/>
<path d="M161.9 50.1 L162.21 50.84 L162.54 51.58 L162.87 52.32 L163.16 53.06 L163.4 53.8 L163.59 54.47 L163.78 55.15 L163.97 55.82 L164.16 56.49 L164.33 57.16 L164.49 57.84 L164.62 58.51 L164.74 59.18 L164.83 59.85 L164.88 60.53 L164.9 61.2 L164.9 61.94 L164.9 62.67 L164.9 63.41 L164.9 64.15 L164.9 64.89 L164.9 65.62 L164.9 66.36 L164.9 67.1 L164.87 67.82 L164.79 68.55 L164.68 69.28 L164.55 70 L164.42 70.72 L164.31 71.45 L164.23 72.18 L164.2 72.9 L164.23 73.64 L164.3 74.38 L164.42 75.11 L164.57 75.85 L164.76 76.59 L164.96 77.33 L165.18 78.06 L165.4 78.8 L165.69 79.53 L166.08 80.27 L166.54 81 L167.02 81.73 L167.49 82.47 L167.9 83.2 L168.28 83.93 L168.67 84.67 L169.04 85.4 L169.38 86.13 L169.67 86.87 L169.9 87.6 L170.09 88.34 L170.27 89.07 L170.43 89.81 L170.59 90.55 L170.71 91.29 L170.81 92.03 L170.88 92.76 L170.9 93.5 L170.89 94.17 L170.87 94.85 L170.84 95.52 L170.81 96.19 L170.76 96.86 L170.71 97.54 L170.65 98.21 L170.59 98.88 L170.53 99.55 L170.46 100.23 L170.4 100.9 L170.32 101.63 L170.23 102.36 L170.13 103.09 L170.02 103.82 L169.9 104.55 L169.78 105.28 L169.67 106.01 L169.57 106.74 L169.48 107.47 L169.4 108.2 L169.35 108.87 L169.3 109.55 L169.27 110.22 L169.24 110.89 L169.21 111.56 L169.18 112.24 L169.14 112.91 L169.1 113.58 L169.05 114.25 L168.98 114.93 L168.9 115.6 L168.67 116.33 L168.29 117.07 L167.9 117.8 L152.9 117.8 L152.51 117.07 L152.13 116.33 L151.9 115.6 L151.82 114.93 L151.75 114.25 L151.7 113.58 L151.66 112.91 L151.62 112.24 L151.59 111.56 L151.56 110.89 L151.53 110.22 L151.5 109.55 L151.45 108.87 L151.4 108.2 L151.32 107.47 L151.23 106.74 L151.13 106.01 L151.02 105.28 L150.9 104.55 L150.78 103.82 L150.67 103.09 L150.57 102.36 L150.48 101.63 L150.4 100.9 L150.34 100.23 L150.27 99.55 L150.21 98.88 L150.15 98.21 L150.09 97.54 L150.04 96.86 L149.99 96.19 L149.96 95.52 L149.93 94.85 L149.91 94.17 L149.9 93.5 L149.92 92.76 L149.99 92.03 L150.09 91.29 L150.21 90.55 L150.37 89.81 L150.53 89.07 L150.71 88.34 L150.9 87.6 L151.13 86.87 L151.42 86.13 L151.76 85.4 L152.13 84.67 L152.52 83.93 L152.9 83.2 L153.31 82.47 L153.78 81.73 L154.26 81 L154.72 80.27 L155.11 79.53 L155.4 78.8 L155.62 78.06 L155.84 77.33 L156.04 76.59 L156.23 75.85 L156.38 75.11 L156.5 74.38 L156.57 73.64 L156.6 72.9 L156.57 72.18 L156.49 71.45 L156.38 70.72 L156.25 70 L156.12 69.28 L156.01 68.55 L155.93 67.82 L155.9 67.1 L155.9 66.36 L155.9 65.62 L155.9 64.89 L155.9 64.15 L155.9 63.41 L155.9 62.67 L155.9 61.94 L155.9 61.2 L155.92 60.53 L155.97 59.85 L156.06 59.18 L156.18 58.51 L156.31 57.84 L156.47 57.16 L156.64 56.49 L156.83 55.82 L157.02 55.15 L157.21 54.47 L157.4 53.8 L157.64 53.06 L157.93 52.32 L158.26 51.58 L158.59 50.84 L158.9 50.1Z" fill="#a0dba8"/>
<line x1="156.4" y1="76.5" x2="164.4" y2="76.5" stroke="#3d7b92" stroke-width="1.0"/>
<line x1="150.4" y1="92.5" x2="170.4" y2="92.5" stroke="#232323" stroke-width="1.0"/>
<line x1="151.9" y1="106.5" x2="168.9" y2="106.5" stroke="#3d7b92" stroke-width="1.0"/>
<circle cx="160.4" cy="50.7" r="1.75" fill="#2fb34c"/>
<circle cx="160.4" cy="61.5" r="1.75" fill="#2fb34c"/>
<circle cx="160.4" cy="64.2" r="1.75" fill="#2fb34c"/>
<circle cx="160.4" cy="69.5" r="1.75" fill="#2fb34c"/>
<circle cx="160.4" cy="74" r="1.75" fill="#2fb34c"/>
<circle cx="160.4" cy="76.7" r="1.75" fill="#2fb34c"/>
<circle cx="160.4" cy="86.5" r="1.75" fill="#2fb34c"/>
<circle cx="160.4" cy="89.2" r="1.75" fill="#2fb34c"/>
<circle cx="160.4" cy="91.9" r="1.75" fill="#2fb34c"/>
<circle cx="160.4" cy="98.2" r="1.75" fill="#2fb34c"/>
<circle cx="160.4" cy="100.9" r="1.75" fill="#2fb34c"/>
<circle cx="160.4" cy="103.6" r="1.75" fill="#2fb34c"/>
<circle cx="160.4" cy="106.2" r="1.75" fill="#2fb34c"/>
<circle cx="160.4" cy="108.9" r="1.75" fill="#2fb34c"/>
<circle cx="160.4" cy="113.4" r="1.75" fill="#2fb34c"/>
<circle cx="160.4" cy="116.1" r="1.75" fill="#2fb34c"/>
<circle cx="160.4" cy="117.9" r="1.75" fill="#2fb34c"/>
<path d="M202.5 73.7 L202.42 74.43 L202.33 75.16 L202.23 75.89 L202.14 76.61 L202.07 77.34 L202.02 78.07 L202 78.8 L202.01 79.47 L202.02 80.15 L202.05 80.82 L202.08 81.49 L202.12 82.16 L202.17 82.84 L202.23 83.51 L202.29 84.18 L202.36 84.85 L202.43 85.53 L202.5 86.2 L202.6 86.94 L202.73 87.67 L202.89 88.41 L203.08 89.15 L203.29 89.89 L203.51 90.62 L203.75 91.36 L204 92.1 L204.31 92.82 L204.71 93.55 L205.16 94.28 L205.64 95 L206.1 95.72 L206.51 96.45 L206.82 97.18 L207 97.9 L207.1 98.64 L207.2 99.38 L207.28 100.11 L207.36 100.85 L207.42 101.59 L207.46 102.33 L207.49 103.06 L207.5 103.8 L207.49 104.54 L207.46 105.28 L207.42 106.01 L207.36 106.75 L207.29 107.49 L207.2 108.22 L207.11 108.96 L207 109.7 L206.8 110.44 L206.44 111.17 L205.96 111.91 L205.39 112.65 L204.77 113.39 L204.15 114.12 L203.54 114.86 L203 115.6 L202.5 116.34 L202 117.07 L201.5 117.81 L201 118.55 L200.5 119.29 L200 120.03 L199.5 120.76 L199 121.5 L197 121.5 L196.5 120.76 L196 120.03 L195.5 119.29 L195 118.55 L194.5 117.81 L194 117.07 L193.5 116.34 L193 115.6 L192.46 114.86 L191.85 114.12 L191.23 113.39 L190.61 112.65 L190.04 111.91 L189.56 111.17 L189.2 110.44 L189 109.7 L188.89 108.96 L188.8 108.22 L188.71 107.49 L188.64 106.75 L188.58 106.01 L188.54 105.28 L188.51 104.54 L188.5 103.8 L188.51 103.06 L188.54 102.33 L188.58 101.59 L188.64 100.85 L188.72 100.11 L188.8 99.38 L188.9 98.64 L189 97.9 L189.18 97.18 L189.49 96.45 L189.9 95.72 L190.36 95 L190.84 94.28 L191.29 93.55 L191.69 92.82 L192 92.1 L192.25 91.36 L192.49 90.62 L192.71 89.89 L192.92 89.15 L193.11 88.41 L193.27 87.67 L193.4 86.94 L193.5 86.2 L193.57 85.53 L193.64 84.85 L193.71 84.18 L193.77 83.51 L193.83 82.84 L193.88 82.16 L193.92 81.49 L193.95 80.82 L193.98 80.15 L193.99 79.47 L194 78.8 L193.98 78.07 L193.93 77.34 L193.86 76.61 L193.77 75.89 L193.67 75.16 L193.58 74.43 L193.5 73.7Z" fill="#a0dba8"/>
<line x1="193.5" y1="86.5" x2="202.5" y2="86.5" stroke="#454a46" stroke-width="1.0"/>
<line x1="189" y1="102.5" x2="207" y2="102.5" stroke="#232323" stroke-width="1.0"/>
<line x1="189" y1="109.5" x2="207" y2="109.5" stroke="#454a46" stroke-width="1.0"/>
<circle cx="198" cy="73.7" r="1.75" fill="#2fb34c"/>
<circle cx="198" cy="75.3" r="1.75" fill="#2fb34c"/>
<circle cx="198" cy="85.6" r="1.75" fill="#2fb34c"/>
<circle cx="198" cy="87.4" r="1.75" fill="#2fb34c"/>
<circle cx="198" cy="99.1" r="1.75" fill="#2fb34c"/>
<circle cx="198" cy="101.8" r="1.75" fill="#2fb34c"/>
<circle cx="198" cy="104.4" r="1.75" fill="#2fb34c"/>
<circle cx="198" cy="107.1" r="1.75" fill="#2fb34c"/>
<circle cx="198" cy="110.7" r="1.75" fill="#2fb34c"/>
<circle cx="198" cy="112.5" r="1.75" fill="#2fb34c"/>
<circle cx="198" cy="120.6" r="1.75" fill="#2fb34c"/>
<path d="M265.7 64.8 L265.54 65.51 L265.36 66.23 L265.17 66.94 L264.99 67.66 L264.84 68.37 L264.74 69.09 L264.7 69.8 L264.72 70.5 L264.76 71.2 L264.83 71.9 L264.92 72.6 L265.01 73.3 L265.11 74 L265.2 74.7 L265.29 75.39 L265.39 76.08 L265.49 76.78 L265.61 77.47 L265.72 78.16 L265.85 78.85 L265.98 79.54 L266.11 80.23 L266.25 80.92 L266.4 81.62 L266.55 82.31 L266.7 83 L266.87 83.68 L267.06 84.37 L267.27 85.05 L267.49 85.73 L267.72 86.42 L267.95 87.1 L268.18 87.78 L268.41 88.47 L268.63 89.15 L268.84 89.83 L269.03 90.52 L269.2 91.2 L269.36 91.89 L269.53 92.58 L269.7 93.28 L269.87 93.97 L270.03 94.66 L270.19 95.35 L270.33 96.04 L270.45 96.73 L270.55 97.42 L270.63 98.12 L270.68 98.81 L270.7 99.5 L270.7 100.18 L270.7 100.87 L270.7 101.55 L270.7 102.23 L270.7 102.92 L270.7 103.6 L270.7 104.28 L270.7 104.97 L270.7 105.65 L270.7 106.33 L270.7 107.02 L270.7 107.7 L270.66 108.43 L270.55 109.17 L270.37 109.9 L270.14 110.63 L269.88 111.37 L269.59 112.1 L269.29 112.83 L268.99 113.57 L268.7 114.3 L268.4 114.99 L268.06 115.68 L267.67 116.38 L267.25 117.07 L266.82 117.76 L266.38 118.45 L265.94 119.14 L265.52 119.83 L265.12 120.52 L264.76 121.22 L264.45 121.91 L264.2 122.6 L263.98 123.33 L263.79 124.07 L263.62 124.8 L263.46 125.53 L263.31 126.27 L263.17 127 L263.02 127.73 L262.87 128.47 L262.7 129.2 L262.54 129.88 L262.37 130.57 L262.2 131.25 L262.04 131.93 L261.87 132.62 L261.7 133.3 L259.7 133.3 L259.53 132.62 L259.36 131.93 L259.2 131.25 L259.03 130.57 L258.86 129.88 L258.7 129.2 L258.53 128.47 L258.38 127.73 L258.23 127 L258.09 126.27 L257.94 125.53 L257.78 124.8 L257.61 124.07 L257.42 123.33 L257.2 122.6 L256.95 121.91 L256.64 121.22 L256.28 120.52 L255.88 119.83 L255.46 119.14 L255.02 118.45 L254.58 117.76 L254.15 117.07 L253.73 116.38 L253.34 115.68 L253 114.99 L252.7 114.3 L252.41 113.57 L252.11 112.83 L251.81 112.1 L251.52 111.37 L251.26 110.63 L251.03 109.9 L250.85 109.17 L250.74 108.43 L250.7 107.7 L250.7 107.02 L250.7 106.33 L250.7 105.65 L250.7 104.97 L250.7 104.28 L250.7 103.6 L250.7 102.92 L250.7 102.23 L250.7 101.55 L250.7 100.87 L250.7 100.18 L250.7 99.5 L250.72 98.81 L250.77 98.12 L250.85 97.42 L250.95 96.73 L251.07 96.04 L251.21 95.35 L251.37 94.66 L251.53 93.97 L251.7 93.28 L251.87 92.58 L252.04 91.89 L252.2 91.2 L252.37 90.52 L252.56 89.83 L252.77 89.15 L252.99 88.47 L253.22 87.78 L253.45 87.1 L253.68 86.42 L253.91 85.73 L254.13 85.05 L254.34 84.37 L254.53 83.68 L254.7 83 L254.85 82.31 L255 81.62 L255.15 80.92 L255.29 80.23 L255.42 79.54 L255.55 78.85 L255.68 78.16 L255.79 77.47 L255.91 76.78 L256.01 76.08 L256.11 75.39 L256.2 74.7 L256.29 74 L256.39 73.3 L256.48 72.6 L256.57 71.9 L256.64 71.2 L256.68 70.5 L256.7 69.8 L256.66 69.09 L256.56 68.37 L256.41 67.66 L256.23 66.94 L256.04 66.23 L255.86 65.51 L255.7 64.8Z" fill="#a0dba8"/>
<line x1="254.2" y1="86.5" x2="267.2" y2="86.5" stroke="#3d7b92" stroke-width="1.0"/>
<line x1="250.7" y1="101.5" x2="270.7" y2="101.5" stroke="#232323" stroke-width="1.0"/>
<line x1="251.7" y1="112.5" x2="269.7" y2="112.5" stroke="#3d7b92" stroke-width="1.0"/>
<circle cx="260.7" cy="64.8" r="1.75" fill="#2fb34c"/>
<circle cx="260.7" cy="70.1" r="1.75" fill="#2fb34c"/>
<circle cx="260.7" cy="75.4" r="1.75" fill="#2fb34c"/>
<circle cx="260.7" cy="86.2" r="1.75" fill="#2fb34c"/>
<circle cx="260.7" cy="91" r="1.75" fill="#2fb34c"/>
<circle cx="260.7" cy="100" r="1.75" fill="#2fb34c"/>
<circle cx="260.7" cy="102.7" r="1.75" fill="#2fb34c"/>
<circle cx="260.7" cy="104.8" r="1.75" fill="#2fb34c"/>
<circle cx="260.7" cy="109.8" r="1.75" fill="#2fb34c"/>
<circle cx="260.7" cy="112.5" r="1.75" fill="#2fb34c"/>
<circle cx="260.7" cy="115.2" r="1.75" fill="#2fb34c"/>
<circle cx="260.7" cy="121.5" r="1.75" fill="#2fb34c"/>
<circle cx="260.7" cy="132.2" r="1.75" fill="#2fb34c"/>
<path d="M300 50.8 L300.18 51.48 L300.38 52.17 L300.58 52.85 L300.76 53.53 L300.91 54.22 L301 54.9 L301.06 55.61 L301.11 56.31 L301.16 57.02 L301.19 57.73 L301.23 58.44 L301.25 59.14 L301.28 59.85 L301.31 60.56 L301.33 61.26 L301.36 61.97 L301.39 62.68 L301.42 63.39 L301.46 64.09 L301.5 64.8 L301.55 65.51 L301.61 66.21 L301.68 66.92 L301.75 67.63 L301.83 68.34 L301.91 69.04 L301.99 69.75 L302.07 70.46 L302.15 71.16 L302.23 71.87 L302.31 72.58 L302.38 73.29 L302.44 73.99 L302.5 74.7 L302.55 75.39 L302.59 76.08 L302.62 76.78 L302.66 77.47 L302.69 78.16 L302.72 78.85 L302.75 79.54 L302.79 80.23 L302.83 80.92 L302.88 81.62 L302.93 82.31 L303 83 L303.11 83.68 L303.29 84.37 L303.53 85.05 L303.82 85.73 L304.15 86.42 L304.5 87.1 L304.86 87.78 L305.23 88.47 L305.59 89.15 L305.93 89.83 L306.23 90.52 L306.5 91.2 L306.75 91.89 L307.02 92.58 L307.3 93.28 L307.58 93.97 L307.86 94.66 L308.12 95.35 L308.36 96.04 L308.57 96.73 L308.75 97.42 L308.88 98.12 L308.97 98.81 L309 99.5 L308.98 100.18 L308.91 100.87 L308.81 101.55 L308.68 102.23 L308.51 102.92 L308.33 103.6 L308.13 104.28 L307.91 104.97 L307.68 105.65 L307.45 106.33 L307.22 107.02 L307 107.7 L306.75 108.43 L306.47 109.17 L306.17 109.9 L305.84 110.63 L305.5 111.37 L305.14 112.1 L304.76 112.83 L304.38 113.57 L304 114.3 L303.62 114.98 L303.22 115.67 L302.79 116.35 L302.36 117.03 L301.92 117.72 L301.5 118.4 L295.5 118.4 L295.08 117.72 L294.64 117.03 L294.21 116.35 L293.78 115.67 L293.38 114.98 L293 114.3 L292.62 113.57 L292.24 112.83 L291.86 112.1 L291.5 111.37 L291.16 110.63 L290.83 109.9 L290.53 109.17 L290.25 108.43 L290 107.7 L289.78 107.02 L289.55 106.33 L289.32 105.65 L289.09 104.97 L288.87 104.28 L288.67 103.6 L288.49 102.92 L288.32 102.23 L288.19 101.55 L288.09 100.87 L288.02 100.18 L288 99.5 L288.03 98.81 L288.12 98.12 L288.25 97.42 L288.43 96.73 L288.64 96.04 L288.88 95.35 L289.14 94.66 L289.42 93.97 L289.7 93.28 L289.98 92.58 L290.25 91.89 L290.5 91.2 L290.77 90.52 L291.07 89.83 L291.41 89.15 L291.77 88.47 L292.14 87.78 L292.5 87.1 L292.85 86.42 L293.18 85.73 L293.47 85.05 L293.71 84.37 L293.89 83.68 L294 83 L294.07 82.31 L294.12 81.62 L294.17 80.92 L294.21 80.23 L294.25 79.54 L294.28 78.85 L294.31 78.16 L294.34 77.47 L294.38 76.78 L294.41 76.08 L294.45 75.39 L294.5 74.7 L294.56 73.99 L294.62 73.29 L294.69 72.58 L294.77 71.87 L294.85 71.16 L294.93 70.46 L295.01 69.75 L295.09 69.04 L295.17 68.34 L295.25 67.63 L295.32 66.92 L295.39 66.21 L295.45 65.51 L295.5 64.8 L295.54 64.09 L295.58 63.39 L295.61 62.68 L295.64 61.97 L295.67 61.26 L295.69 60.56 L295.72 59.85 L295.75 59.14 L295.77 58.44 L295.81 57.73 L295.84 57.02 L295.89 56.31 L295.94 55.61 L296 54.9 L296.09 54.22 L296.24 53.53 L296.42 52.85 L296.62 52.17 L296.82 51.48 L297 50.8Z" fill="#a0dba8"/>
<line x1="294.5" y1="75.5" x2="302.5" y2="75.5" stroke="#454a46" stroke-width="1.0"/>
<line x1="288.5" y1="99.5" x2="308.5" y2="99.5" stroke="#232323" stroke-width="1.0"/>
<line x1="290.5" y1="107.5" x2="306.5" y2="107.5" stroke="#454a46" stroke-width="1.0"/>
<circle cx="298.5" cy="51.1" r="1.75" fill="#2fb34c"/>
<circle cx="298.5" cy="61.5" r="1.75" fill="#2fb34c"/>
<circle cx="298.5" cy="73.7" r="1.75" fill="#2fb34c"/>
<circle cx="298.5" cy="78.5" r="1.75" fill="#2fb34c"/>
<circle cx="298.5" cy="88.3" r="1.75" fill="#2fb34c"/>
<circle cx="298.5" cy="91" r="1.75" fill="#2fb34c"/>
<circle cx="298.5" cy="92.8" r="1.75" fill="#2fb34c"/>
<circle cx="298.5" cy="99.1" r="1.75" fill="#2fb34c"/>
<circle cx="298.5" cy="105.3" r="1.75" fill="#2fb34c"/>
<circle cx="298.5" cy="108" r="1.75" fill="#2fb34c"/>
<circle cx="298.5" cy="116.1" r="1.75" fill="#2fb34c"/>
<circle cx="298.5" cy="117.9" r="1.75" fill="#2fb34c"/>
<path d="M364.4 60.2 L364.56 60.93 L364.74 61.66 L364.93 62.39 L365.11 63.11 L365.26 63.84 L365.36 64.57 L365.4 65.3 L365.4 65.99 L365.4 66.67 L365.39 67.36 L365.39 68.05 L365.38 68.73 L365.37 69.42 L365.36 70.11 L365.34 70.79 L365.33 71.48 L365.31 72.17 L365.29 72.85 L365.27 73.54 L365.25 74.23 L365.23 74.91 L365.2 75.6 L365.14 76.34 L365.01 77.09 L364.86 77.83 L364.69 78.57 L364.55 79.31 L364.44 80.06 L364.4 80.8 L364.43 81.52 L364.52 82.24 L364.66 82.97 L364.84 83.69 L365.04 84.41 L365.26 85.13 L365.48 85.86 L365.7 86.58 L365.9 87.3 L366.09 88.01 L366.28 88.72 L366.48 89.43 L366.68 90.14 L366.89 90.86 L367.12 91.57 L367.36 92.28 L367.62 92.99 L367.9 93.7 L368.29 94.44 L368.81 95.19 L369.38 95.93 L369.94 96.67 L370.43 97.41 L370.77 98.16 L370.9 98.9 L370.9 99.63 L370.9 100.36 L370.9 101.09 L370.9 101.81 L370.9 102.54 L370.9 103.27 L370.9 104 L370.87 104.72 L370.79 105.44 L370.66 106.17 L370.49 106.89 L370.3 107.61 L370.09 108.33 L369.86 109.06 L369.63 109.78 L369.4 110.5 L369.16 111.22 L368.89 111.94 L368.6 112.67 L368.27 113.39 L367.93 114.11 L367.57 114.83 L367.19 115.56 L366.8 116.28 L366.4 117 L365.98 117.71 L365.51 118.42 L365.02 119.14 L364.5 119.85 L363.97 120.56 L363.44 121.28 L362.91 121.99 L362.4 122.7 L359.4 122.7 L358.89 121.99 L358.36 121.28 L357.83 120.56 L357.3 119.85 L356.78 119.14 L356.29 118.42 L355.82 117.71 L355.4 117 L355 116.28 L354.61 115.56 L354.23 114.83 L353.87 114.11 L353.53 113.39 L353.2 112.67 L352.91 111.94 L352.64 111.22 L352.4 110.5 L352.17 109.78 L351.94 109.06 L351.71 108.33 L351.5 107.61 L351.31 106.89 L351.14 106.17 L351.01 105.44 L350.93 104.72 L350.9 104 L350.9 103.27 L350.9 102.54 L350.9 101.81 L350.9 101.09 L350.9 100.36 L350.9 99.63 L350.9 98.9 L351.03 98.16 L351.37 97.41 L351.86 96.67 L352.42 95.93 L352.99 95.19 L353.51 94.44 L353.9 93.7 L354.18 92.99 L354.44 92.28 L354.68 91.57 L354.91 90.86 L355.12 90.14 L355.32 89.43 L355.52 88.72 L355.71 88.01 L355.9 87.3 L356.1 86.58 L356.32 85.86 L356.54 85.13 L356.76 84.41 L356.96 83.69 L357.14 82.97 L357.28 82.24 L357.37 81.52 L357.4 80.8 L357.36 80.06 L357.25 79.31 L357.11 78.57 L356.94 77.83 L356.79 77.09 L356.66 76.34 L356.6 75.6 L356.57 74.91 L356.55 74.23 L356.53 73.54 L356.51 72.85 L356.49 72.17 L356.47 71.48 L356.46 70.79 L356.44 70.11 L356.43 69.42 L356.42 68.73 L356.41 68.05 L356.41 67.36 L356.4 66.67 L356.4 65.99 L356.4 65.3 L356.44 64.57 L356.54 63.84 L356.69 63.11 L356.87 62.39 L357.06 61.66 L357.24 60.93 L357.4 60.2Z" fill="#a0dba8"/>
<line x1="356.4" y1="77.5" x2="365.4" y2="77.5" stroke="#3d7b92" stroke-width="1.0"/>
<line x1="351.4" y1="99.5" x2="370.4" y2="99.5" stroke="#232323" stroke-width="1.0"/>
<line x1="352.4" y1="107.5" x2="369.4" y2="107.5" stroke="#3d7b92" stroke-width="1.0"/>
<circle cx="360.9" cy="61.5" r="1.75" fill="#2fb34c"/>
<circle cx="360.9" cy="64.2" r="1.75" fill="#2fb34c"/>
<circle cx="360.9" cy="70.4" r="1.75" fill="#2fb34c"/>
<circle cx="360.9" cy="74" r="1.75" fill="#2fb34c"/>
<circle cx="360.9" cy="75.8" r="1.75" fill="#2fb34c"/>
<circle cx="360.9" cy="85.6" r="1.75" fill="#2fb34c"/>
<circle cx="360.9" cy="88.3" r="1.75" fill="#2fb34c"/>
<circle cx="360.9" cy="91" r="1.75" fill="#2fb34c"/>
<circle cx="360.9" cy="99.1" r="1.75" fill="#2fb34c"/>
<circle cx="360.9" cy="101.8" r="1.75" fill="#2fb34c"/>
<circle cx="360.9" cy="104.4" r="1.75" fill="#2fb34c"/>
<circle cx="360.9" cy="107.1" r="1.75" fill="#2fb34c"/>
<circle cx="360.9" cy="109.8" r="1.75" fill="#2fb34c"/>
<circle cx="360.9" cy="112.5" r="1.75" fill="#2fb34c"/>
<circle cx="360.9" cy="115.2" r="1.75" fill="#2fb34c"/>
<circle cx="360.9" cy="118.8" r="1.75" fill="#2fb34c"/>
<circle cx="360.9" cy="121.5" r="1.75" fill="#2fb34c"/>
<path d="M402.7 50.8 L402.53 51.48 L402.36 52.17 L402.2 52.85 L402.03 53.53 L401.86 54.22 L401.7 54.9 L401.53 55.63 L401.36 56.37 L401.2 57.1 L401.04 57.83 L400.87 58.57 L400.71 59.3 L400.54 60.03 L400.37 60.77 L400.2 61.5 L400.01 62.2 L399.78 62.9 L399.54 63.6 L399.32 64.3 L399.13 65 L399 65.7 L398.95 66.4 L398.95 67.13 L398.95 67.87 L398.95 68.6 L398.95 69.33 L398.95 70.07 L398.95 70.8 L398.95 71.53 L398.95 72.27 L398.95 73 L399.02 73.83 L399.19 74.65 L399.43 75.47 L399.7 76.3 L400.06 77.12 L400.55 77.95 L401.12 78.77 L401.7 79.6 L402.24 80.3 L402.86 81 L403.51 81.7 L404.17 82.4 L404.78 83.1 L405.3 83.8 L405.7 84.5 L406.03 85.23 L406.35 85.97 L406.66 86.7 L406.94 87.43 L407.19 88.17 L407.4 88.9 L407.56 89.63 L407.66 90.37 L407.7 91.1 L407.7 91.83 L407.7 92.57 L407.7 93.3 L407.7 94.03 L407.7 94.77 L407.7 95.5 L407.7 96.23 L407.7 96.97 L407.7 97.7 L407.54 98.53 L407.2 99.35 L406.86 100.17 L406.7 101 L406.75 101.73 L406.89 102.47 L407.09 103.2 L407.33 103.93 L407.57 104.67 L407.81 105.4 L408.01 106.13 L408.15 106.87 L408.2 107.6 L408.06 108.3 L407.69 109 L407.16 109.7 L406.53 110.4 L405.86 111.1 L405.23 111.8 L404.7 112.5 L404.21 113.23 L403.71 113.97 L403.21 114.7 L402.72 115.43 L402.24 116.17 L401.8 116.9 L401.38 117.63 L401.02 118.37 L400.7 119.1 L400.36 119.92 L400.04 120.75 L399.8 121.58 L399.7 122.4 L399.78 123.11 L400 123.83 L400.31 124.54 L400.67 125.26 L401.05 125.97 L401.41 126.69 L401.7 127.4 L401.94 128.1 L402.16 128.8 L402.37 129.5 L402.58 130.2 L402.78 130.9 L402.99 131.6 L403.2 132.3 L394.2 132.3 L394.41 131.6 L394.62 130.9 L394.82 130.2 L395.03 129.5 L395.24 128.8 L395.46 128.1 L395.7 127.4 L395.99 126.69 L396.35 125.97 L396.73 125.26 L397.09 124.54 L397.4 123.83 L397.62 123.11 L397.7 122.4 L397.6 121.58 L397.36 120.75 L397.04 119.92 L396.7 119.1 L396.38 118.37 L396.02 117.63 L395.6 116.9 L395.16 116.17 L394.68 115.43 L394.19 114.7 L393.69 113.97 L393.19 113.23 L392.7 112.5 L392.17 111.8 L391.54 111.1 L390.87 110.4 L390.24 109.7 L389.71 109 L389.34 108.3 L389.2 107.6 L389.25 106.87 L389.39 106.13 L389.59 105.4 L389.83 104.67 L390.07 103.93 L390.31 103.2 L390.51 102.47 L390.65 101.73 L390.7 101 L390.54 100.17 L390.2 99.35 L389.86 98.53 L389.7 97.7 L389.7 96.97 L389.7 96.23 L389.7 95.5 L389.7 94.77 L389.7 94.03 L389.7 93.3 L389.7 92.57 L389.7 91.83 L389.7 91.1 L389.74 90.37 L389.84 89.63 L390 88.9 L390.21 88.17 L390.46 87.43 L390.74 86.7 L391.05 85.97 L391.37 85.23 L391.7 84.5 L392.1 83.8 L392.62 83.1 L393.23 82.4 L393.89 81.7 L394.54 81 L395.16 80.3 L395.7 79.6 L396.28 78.77 L396.85 77.95 L397.34 77.12 L397.7 76.3 L397.97 75.47 L398.21 74.65 L398.38 73.83 L398.45 73 L398.45 72.27 L398.45 71.53 L398.45 70.8 L398.45 70.07 L398.45 69.33 L398.45 68.6 L398.45 67.87 L398.45 67.13 L398.45 66.4 L398.4 65.7 L398.27 65 L398.08 64.3 L397.86 63.6 L397.62 62.9 L397.39 62.2 L397.2 61.5 L397.03 60.77 L396.86 60.03 L396.69 59.3 L396.53 58.57 L396.36 57.83 L396.2 57.1 L396.04 56.37 L395.87 55.63 L395.7 54.9 L395.54 54.22 L395.37 53.53 L395.2 52.85 L395.04 52.17 L394.87 51.48 L394.7 50.8Z" fill="#a0dba8"/>
<line x1="390.7" y1="88.5" x2="406.7" y2="88.5" stroke="#232323" stroke-width="1.0"/>
<line x1="389.7" y1="100.5" x2="407.7" y2="100.5" stroke="#232323" stroke-width="1.0"/>
<line x1="389.2" y1="108.5" x2="408.2" y2="108.5" stroke="#232323" stroke-width="1.0"/>
<circle cx="398.7" cy="50.7" r="1.75" fill="#2fb34c"/>
<circle cx="398.7" cy="88.3" r="1.75" fill="#2fb34c"/>
<circle cx="398.7" cy="92.3" r="1.75" fill="#2fb34c"/>
<circle cx="398.7" cy="100.3" r="1.75" fill="#2fb34c"/>
<circle cx="398.7" cy="108.9" r="1.75" fill="#2fb34c"/>
<circle cx="398.7" cy="132.2" r="1.75" fill="#2fb34c"/>
<path d="M462.7 49.7 L462.95 50.4 L463.21 51.1 L463.46 51.8 L463.7 52.5 L463.93 53.17 L464.16 53.83 L464.39 54.5 L464.62 55.17 L464.85 55.83 L465.08 56.5 L465.3 57.17 L465.52 57.83 L465.74 58.5 L465.94 59.17 L466.14 59.83 L466.32 60.5 L466.5 61.17 L466.66 61.83 L466.8 62.5 L466.95 63.2 L467.09 63.9 L467.24 64.6 L467.39 65.3 L467.53 66 L467.68 66.7 L467.81 67.4 L467.95 68.1 L468.07 68.8 L468.19 69.5 L468.3 70.2 L468.4 70.9 L468.49 71.6 L468.56 72.3 L468.62 73 L468.66 73.7 L468.69 74.4 L468.7 75.1 L468.68 75.8 L468.62 76.5 L468.54 77.2 L468.45 77.9 L468.35 78.6 L468.26 79.3 L468.18 80 L468.12 80.7 L468.1 81.4 L468.17 82.08 L468.37 82.76 L468.67 83.45 L469.03 84.13 L469.44 84.81 L469.86 85.49 L470.27 86.17 L470.63 86.85 L470.93 87.54 L471.13 88.22 L471.2 88.9 L471.18 89.6 L471.12 90.3 L471.02 91 L470.91 91.7 L470.78 92.4 L470.65 93.1 L470.52 93.8 L470.4 94.5 L470.3 95.2 L470.21 95.88 L470.12 96.56 L470.02 97.25 L469.92 97.93 L469.83 98.61 L469.74 99.29 L469.66 99.97 L469.6 100.65 L469.54 101.34 L469.51 102.02 L469.5 102.7 L469.51 103.37 L469.52 104.03 L469.55 104.7 L469.59 105.37 L469.63 106.03 L469.68 106.7 L469.73 107.37 L469.77 108.03 L469.82 108.7 L469.87 109.37 L469.91 110.03 L469.95 110.7 L469.98 111.37 L469.99 112.03 L470 112.7 L469.91 113.53 L469.65 114.35 L469.24 115.17 L468.7 116 L467.64 116.65 L466.2 117.3 L456.2 117.3 L454.76 116.65 L453.7 116 L453.16 115.17 L452.75 114.35 L452.49 113.53 L452.4 112.7 L452.41 112.03 L452.42 111.37 L452.45 110.7 L452.49 110.03 L452.53 109.37 L452.58 108.7 L452.63 108.03 L452.67 107.37 L452.72 106.7 L452.77 106.03 L452.81 105.37 L452.85 104.7 L452.88 104.03 L452.89 103.37 L452.9 102.7 L452.89 102.02 L452.86 101.34 L452.8 100.65 L452.74 99.97 L452.66 99.29 L452.57 98.61 L452.48 97.93 L452.38 97.25 L452.28 96.56 L452.19 95.88 L452.1 95.2 L452 94.5 L451.88 93.8 L451.75 93.1 L451.62 92.4 L451.49 91.7 L451.38 91 L451.28 90.3 L451.22 89.6 L451.2 88.9 L451.27 88.22 L451.47 87.54 L451.77 86.85 L452.13 86.17 L452.54 85.49 L452.96 84.81 L453.37 84.13 L453.73 83.45 L454.03 82.76 L454.23 82.08 L454.3 81.4 L454.28 80.7 L454.22 80 L454.14 79.3 L454.05 78.6 L453.95 77.9 L453.86 77.2 L453.78 76.5 L453.72 75.8 L453.7 75.1 L453.71 74.4 L453.74 73.7 L453.78 73 L453.84 72.3 L453.91 71.6 L454 70.9 L454.1 70.2 L454.21 69.5 L454.33 68.8 L454.45 68.1 L454.59 67.4 L454.72 66.7 L454.87 66 L455.01 65.3 L455.16 64.6 L455.31 63.9 L455.45 63.2 L455.6 62.5 L455.74 61.83 L455.9 61.17 L456.08 60.5 L456.26 59.83 L456.46 59.17 L456.66 58.5 L456.88 57.83 L457.1 57.17 L457.32 56.5 L457.55 55.83 L457.78 55.17 L458.01 54.5 L458.24 53.83 L458.47 53.17 L458.7 52.5 L458.94 51.8 L459.19 51.1 L459.45 50.4 L459.7 49.7Z" fill="#a0dba8"/>
<line x1="453.7" y1="74.5" x2="468.7" y2="74.5" stroke="#3d7b92" stroke-width="1.0"/>
<line x1="451.2" y1="89.5" x2="471.2" y2="89.5" stroke="#232323" stroke-width="1.0"/>
<line x1="453" y1="104.5" x2="469.4" y2="104.5" stroke="#3d7b92" stroke-width="1.0"/>
<circle cx="461.2" cy="50.7" r="1.75" fill="#2fb34c"/>
<circle cx="461.2" cy="60.6" r="1.75" fill="#2fb34c"/>
<circle cx="461.2" cy="63.5" r="1.75" fill="#2fb34c"/>
<circle cx="461.2" cy="66.5" r="1.75" fill="#2fb34c"/>
<circle cx="461.2" cy="70.4" r="1.75" fill="#2fb34c"/>
<circle cx="461.2" cy="74.4" r="1.75" fill="#2fb34c"/>
<circle cx="461.2" cy="78.3" r="1.75" fill="#2fb34c"/>
<circle cx="461.2" cy="86.2" r="1.75" fill="#2fb34c"/>
<circle cx="461.2" cy="89.2" r="1.75" fill="#2fb34c"/>
<circle cx="461.2" cy="92.1" r="1.75" fill="#2fb34c"/>
<circle cx="461.2" cy="99" r="1.75" fill="#2fb34c"/>
<circle cx="461.2" cy="102" r="1.75" fill="#2fb34c"/>
<circle cx="461.2" cy="105" r="1.75" fill="#2fb34c"/>
<circle cx="461.2" cy="107.9" r="1.75" fill="#2fb34c"/>
<circle cx="461.2" cy="110.9" r="1.75" fill="#2fb34c"/>
<circle cx="461.2" cy="113.8" r="1.75" fill="#2fb34c"/>
<circle cx="461.2" cy="115.8" r="1.75" fill="#2fb34c"/>
<path d="M499.5 60 L500.12 60.8 L500.5 61.6 L500.48 62.4 L500.45 63.2 L500.4 64 L500.35 64.7 L500.28 65.4 L500.2 66.1 L500.1 66.8 L499.92 67.6 L499.67 68.4 L499.43 69.2 L499.3 70 L499.26 70.68 L499.22 71.37 L499.19 72.05 L499.17 72.73 L499.15 73.42 L499.15 74.1 L499.16 74.88 L499.18 75.66 L499.21 76.44 L499.25 77.22 L499.3 78 L499.39 78.7 L499.55 79.4 L499.74 80.1 L499.93 80.8 L500.1 81.5 L500.24 82.23 L500.36 82.96 L500.47 83.69 L500.58 84.42 L500.68 85.15 L500.79 85.88 L500.91 86.61 L501.05 87.34 L501.21 88.07 L501.4 88.8 L501.66 89.54 L502 90.28 L502.42 91.01 L502.89 91.75 L503.39 92.49 L503.9 93.22 L504.41 93.96 L504.9 94.7 L505.4 95.43 L505.95 96.17 L506.5 96.9 L507.04 97.63 L507.51 98.37 L507.9 99.1 L508.24 99.82 L508.56 100.55 L508.8 101.28 L508.9 102 L508.81 102.75 L508.56 103.5 L508.2 104.25 L507.78 105 L507.33 105.75 L506.9 106.5 L506.42 107.23 L505.82 107.97 L505.19 108.7 L504.6 109.43 L504.15 110.17 L503.9 110.9 L503.8 111.64 L503.73 112.38 L503.67 113.11 L503.63 113.85 L503.59 114.59 L503.54 115.33 L503.48 116.06 L503.4 116.8 L503.28 117.52 L503.12 118.25 L502.92 118.97 L502.71 119.7 L502.48 120.42 L502.27 121.15 L502.07 121.88 L501.9 122.6 L501.76 123.34 L501.63 124.07 L501.52 124.81 L501.41 125.55 L501.29 126.29 L501.18 127.03 L501.05 127.76 L500.9 128.5 L500.73 129.24 L500.53 129.98 L500.32 130.72 L500.11 131.46 L499.9 132.2 L497.9 132.2 L497.69 131.46 L497.48 130.72 L497.27 129.98 L497.07 129.24 L496.9 128.5 L496.75 127.76 L496.62 127.03 L496.51 126.29 L496.39 125.55 L496.28 124.81 L496.17 124.07 L496.04 123.34 L495.9 122.6 L495.73 121.88 L495.53 121.15 L495.32 120.42 L495.09 119.7 L494.88 118.97 L494.68 118.25 L494.52 117.52 L494.4 116.8 L494.32 116.06 L494.26 115.33 L494.21 114.59 L494.17 113.85 L494.13 113.11 L494.07 112.38 L494 111.64 L493.9 110.9 L493.65 110.17 L493.2 109.43 L492.61 108.7 L491.98 107.97 L491.38 107.23 L490.9 106.5 L490.47 105.75 L490.02 105 L489.6 104.25 L489.24 103.5 L488.99 102.75 L488.9 102 L489 101.28 L489.24 100.55 L489.56 99.82 L489.9 99.1 L490.29 98.37 L490.76 97.63 L491.3 96.9 L491.85 96.17 L492.4 95.43 L492.9 94.7 L493.39 93.96 L493.9 93.22 L494.41 92.49 L494.91 91.75 L495.38 91.01 L495.8 90.28 L496.14 89.54 L496.4 88.8 L496.59 88.07 L496.75 87.34 L496.89 86.61 L497.01 85.88 L497.12 85.15 L497.22 84.42 L497.33 83.69 L497.44 82.96 L497.56 82.23 L497.7 81.5 L497.87 80.8 L498.06 80.1 L498.25 79.4 L498.41 78.7 L498.5 78 L498.55 77.22 L498.59 76.44 L498.62 75.66 L498.64 74.88 L498.65 74.1 L498.65 73.42 L498.63 72.73 L498.61 72.05 L498.58 71.37 L498.54 70.68 L498.5 70 L498.37 69.2 L498.13 68.4 L497.88 67.6 L497.7 66.8 L497.6 66.1 L497.52 65.4 L497.45 64.7 L497.4 64 L497.35 63.2 L497.32 62.4 L497.3 61.6 L497.67 60.8 L498.3 60Z" fill="#a0dba8"/>
<line x1="489.4" y1="99.5" x2="508.4" y2="99.5" stroke="#454a46" stroke-width="1.0"/>
<line x1="488.9" y1="104.5" x2="508.9" y2="104.5" stroke="#454a46" stroke-width="1.0"/>
<line x1="493.9" y1="116.5" x2="503.9" y2="116.5" stroke="#454a46" stroke-width="1.0"/>
<circle cx="498.9" cy="61.6" r="1.75" fill="#2fb34c"/>
<circle cx="498.9" cy="89.6" r="1.75" fill="#2fb34c"/>
<circle cx="498.9" cy="99.1" r="1.75" fill="#2fb34c"/>
<circle cx="498.9" cy="100.9" r="1.75" fill="#2fb34c"/>
<circle cx="498.9" cy="103.5" r="1.75" fill="#2fb34c"/>
<circle cx="498.9" cy="105.7" r="1.75" fill="#2fb34c"/>
<circle cx="498.9" cy="107.9" r="1.75" fill="#2fb34c"/>
<circle cx="498.9" cy="115.3" r="1.75" fill="#2fb34c"/>
<circle cx="498.9" cy="117.5" r="1.75" fill="#2fb34c"/>
<circle cx="498.9" cy="119.7" r="1.75" fill="#2fb34c"/>
<circle cx="498.9" cy="132.2" r="1.75" fill="#2fb34c"/>
<path d="M60.45 185.3 L60.45 185.97 L60.45 186.64 L60.45 187.31 L60.45 187.98 L60.45 188.65 L60.45 189.33 L60.45 190 L60.45 190.67 L60.45 191.34 L60.45 192.01 L60.45 192.68 L60.45 193.35 L60.45 194.02 L60.45 194.69 L60.45 195.36 L60.45 196.03 L60.45 196.7 L60.45 197.38 L60.45 198.05 L60.45 198.72 L60.45 199.39 L60.45 200.06 L60.45 200.73 L60.45 201.4 L60.45 202.07 L60.45 202.74 L60.45 203.41 L60.45 204.08 L60.45 204.75 L60.45 205.43 L60.45 206.1 L60.45 206.77 L60.45 207.44 L60.45 208.11 L60.45 208.78 L60.45 209.45 L60.45 210.12 L60.45 210.79 L60.45 211.46 L60.45 212.13 L60.45 212.8 L60.45 213.47 L60.45 214.15 L60.45 214.82 L60.45 215.49 L60.45 216.16 L60.45 216.83 L60.45 217.5 L60.57 218.22 L60.83 218.95 L61.08 219.68 L61.2 220.4 L61.08 221.12 L60.83 221.85 L60.57 222.58 L60.45 223.3 L60.45 223.97 L60.45 224.63 L60.45 225.3 L60.45 225.97 L60.45 226.63 L60.45 227.3 L60.45 227.97 L60.45 228.63 L60.45 229.3 L60.45 229.97 L60.45 230.63 L60.45 231.3 L60.57 232.03 L60.83 232.75 L61.08 233.47 L61.2 234.2 L61.08 234.92 L60.83 235.65 L60.57 236.38 L60.45 237.1 L60.45 237.77 L60.45 238.44 L60.45 239.11 L60.45 239.79 L60.45 240.46 L60.46 241.13 L60.46 241.8 L60.46 242.47 L60.47 243.14 L60.47 243.81 L60.48 244.49 L60.48 245.16 L60.49 245.83 L60.5 246.5 L60.84 247.33 L61.47 248.17 L61.8 249 L61.72 249.67 L61.58 250.33 L61.5 251 L62.3 251.95 L63.7 252.9 L64.84 253.7 L66.11 254.5 L67.3 255.3 L68.2 256.1 L68.8 256.78 L69.37 257.47 L69.89 258.15 L70.31 258.83 L70.6 259.52 L70.7 260.2 L70.24 261 L69.19 261.8 L68.01 262.6 L67.2 263.4 L66.73 264.2 L66.35 265 L66.2 265.8 L66.28 266.6 L66.45 267.4 L66.62 268.2 L66.7 269 L66.69 269.7 L66.66 270.4 L66.61 271.1 L66.53 271.8 L66.44 272.5 L66.33 273.2 L66.2 273.9 L65.81 274.7 L65.08 275.5 L64.2 276.3 L62.91 277.15 L61.4 278 L59 278 L57.49 277.15 L56.2 276.3 L55.32 275.5 L54.59 274.7 L54.2 273.9 L54.07 273.2 L53.96 272.5 L53.87 271.8 L53.79 271.1 L53.74 270.4 L53.71 269.7 L53.7 269 L53.78 268.2 L53.95 267.4 L54.12 266.6 L54.2 265.8 L54.05 265 L53.67 264.2 L53.2 263.4 L52.39 262.6 L51.21 261.8 L50.16 261 L49.7 260.2 L49.8 259.52 L50.09 258.83 L50.51 258.15 L51.03 257.47 L51.6 256.78 L52.2 256.1 L53.1 255.3 L54.29 254.5 L55.56 253.7 L56.7 252.9 L58.1 251.95 L58.9 251 L58.82 250.33 L58.68 249.67 L58.6 249 L58.93 248.17 L59.56 247.33 L59.9 246.5 L59.91 245.83 L59.92 245.16 L59.92 244.49 L59.93 243.81 L59.93 243.14 L59.94 242.47 L59.94 241.8 L59.94 241.13 L59.95 240.46 L59.95 239.79 L59.95 239.11 L59.95 238.44 L59.95 237.77 L59.95 237.1 L59.83 236.38 L59.58 235.65 L59.32 234.92 L59.2 234.2 L59.32 233.47 L59.58 232.75 L59.83 232.03 L59.95 231.3 L59.95 230.63 L59.95 229.97 L59.95 229.3 L59.95 228.63 L59.95 227.97 L59.95 227.3 L59.95 226.63 L59.95 225.97 L59.95 225.3 L59.95 224.63 L59.95 223.97 L59.95 223.3 L59.83 222.58 L59.58 221.85 L59.32 221.12 L59.2 220.4 L59.32 219.68 L59.58 218.95 L59.83 218.22 L59.95 217.5 L59.95 216.83 L59.95 216.16 L59.95 215.49 L59.95 214.82 L59.95 214.15 L59.95 213.47 L59.95 212.8 L59.95 212.13 L59.95 211.46 L59.95 210.79 L59.95 210.12 L59.95 209.45 L59.95 208.78 L59.95 208.11 L59.95 207.44 L59.95 206.77 L59.95 206.1 L59.95 205.43 L59.95 204.75 L59.95 204.08 L59.95 203.41 L59.95 202.74 L59.95 202.07 L59.95 201.4 L59.95 200.73 L59.95 200.06 L59.95 199.39 L59.95 198.72 L59.95 198.05 L59.95 197.38 L59.95 196.7 L59.95 196.03 L59.95 195.36 L59.95 194.69 L59.95 194.02 L59.95 193.35 L59.95 192.68 L59.95 192.01 L59.95 191.34 L59.95 190.67 L59.95 190 L59.95 189.33 L59.95 188.65 L59.95 187.98 L59.95 187.31 L59.95 186.64 L59.95 185.97 L59.95 185.3Z" fill="#e68e9e"/>
<line x1="53.2" y1="256.5" x2="67.2" y2="256.5" stroke="#d4486a" stroke-width="1.2"/>
<line x1="50.2" y1="260.5" x2="70.2" y2="260.5" stroke="#43252c" stroke-width="1.35"/>
<line x1="53.7" y1="269.5" x2="66.7" y2="269.5" stroke="#d4486a" stroke-width="1.2"/>
<circle cx="60.2" cy="185.3" r="1.75" fill="#cc0a2a"/>
<circle cx="60.2" cy="220.4" r="1.75" fill="#cc0a2a"/>
<circle cx="60.2" cy="234.2" r="1.75" fill="#cc0a2a"/>
<circle cx="60.2" cy="249" r="1.75" fill="#cc0a2a"/>
<circle cx="60.2" cy="254.5" r="1.75" fill="#cc0a2a"/>
<circle cx="60.2" cy="256.5" r="1.75" fill="#cc0a2a"/>
<circle cx="60.2" cy="258.5" r="1.75" fill="#cc0a2a"/>
<circle cx="60.2" cy="260.5" r="1.75" fill="#cc0a2a"/>
<circle cx="60.2" cy="262.5" r="1.75" fill="#cc0a2a"/>
<circle cx="60.2" cy="264.5" r="1.75" fill="#cc0a2a"/>
<circle cx="60.2" cy="266.5" r="1.75" fill="#cc0a2a"/>
<circle cx="60.2" cy="268.5" r="1.75" fill="#cc0a2a"/>
<circle cx="60.2" cy="270.5" r="1.75" fill="#cc0a2a"/>
<circle cx="60.2" cy="272.5" r="1.75" fill="#cc0a2a"/>
<circle cx="60.2" cy="274.5" r="1.75" fill="#cc0a2a"/>
<circle cx="60.2" cy="276.3" r="1.75" fill="#cc0a2a"/>
<path d="M97.85 198.9 L97.86 199.6 L97.87 200.3 L97.87 201 L97.88 201.7 L97.89 202.4 L97.89 203.1 L97.9 203.8 L97.91 204.5 L97.92 205.2 L97.93 205.9 L97.94 206.6 L97.95 207.3 L97.96 208 L97.98 208.7 L98 209.4 L98.07 210.11 L98.21 210.82 L98.42 211.53 L98.68 212.24 L98.97 212.96 L99.27 213.67 L99.57 214.38 L99.85 215.09 L100.1 215.8 L100.34 216.52 L100.58 217.24 L100.82 217.97 L101.07 218.69 L101.31 219.41 L101.53 220.13 L101.75 220.86 L101.94 221.58 L102.1 222.3 L102.24 223.01 L102.38 223.72 L102.51 224.43 L102.63 225.14 L102.74 225.86 L102.84 226.57 L102.94 227.28 L103.02 227.99 L103.1 228.7 L103.17 229.42 L103.22 230.14 L103.27 230.87 L103.31 231.59 L103.35 232.31 L103.4 233.03 L103.45 233.76 L103.52 234.48 L103.6 235.2 L103.74 235.91 L103.95 236.62 L104.23 237.33 L104.55 238.04 L104.89 238.76 L105.24 239.47 L105.57 240.18 L105.86 240.89 L106.1 241.6 L106.32 242.32 L106.54 243.04 L106.77 243.77 L106.98 244.49 L107.18 245.21 L107.35 245.93 L107.48 246.66 L107.57 247.38 L107.6 248.1 L107.54 248.81 L107.38 249.52 L107.15 250.23 L106.87 250.94 L106.57 251.66 L106.26 252.37 L105.98 253.08 L105.75 253.79 L105.6 254.5 L105.49 255.2 L105.39 255.9 L105.3 256.6 L105.22 257.3 L105.16 258 L105.11 258.7 L105.1 259.4 L105.16 260.11 L105.31 260.82 L105.55 261.53 L105.83 262.24 L106.13 262.96 L106.44 263.67 L106.72 264.38 L106.95 265.09 L107.1 265.8 L107.2 266.49 L107.31 267.17 L107.4 267.86 L107.48 268.54 L107.54 269.23 L107.59 269.91 L107.6 270.6 L107.6 271.43 L107.6 272.25 L107.6 273.07 L107.6 273.9 L87.6 273.9 L87.6 273.07 L87.6 272.25 L87.6 271.43 L87.6 270.6 L87.61 269.91 L87.66 269.23 L87.72 268.54 L87.8 267.86 L87.89 267.17 L88 266.49 L88.1 265.8 L88.25 265.09 L88.48 264.38 L88.76 263.67 L89.07 262.96 L89.37 262.24 L89.65 261.53 L89.89 260.82 L90.04 260.11 L90.1 259.4 L90.09 258.7 L90.04 258 L89.98 257.3 L89.9 256.6 L89.81 255.9 L89.71 255.2 L89.6 254.5 L89.45 253.79 L89.22 253.08 L88.94 252.37 L88.63 251.66 L88.33 250.94 L88.05 250.23 L87.82 249.52 L87.66 248.81 L87.6 248.1 L87.63 247.38 L87.72 246.66 L87.85 245.93 L88.02 245.21 L88.22 244.49 L88.43 243.77 L88.66 243.04 L88.88 242.32 L89.1 241.6 L89.34 240.89 L89.63 240.18 L89.96 239.47 L90.31 238.76 L90.65 238.04 L90.97 237.33 L91.25 236.62 L91.46 235.91 L91.6 235.2 L91.68 234.48 L91.75 233.76 L91.8 233.03 L91.85 232.31 L91.89 231.59 L91.93 230.87 L91.98 230.14 L92.03 229.42 L92.1 228.7 L92.18 227.99 L92.26 227.28 L92.36 226.57 L92.46 225.86 L92.57 225.14 L92.69 224.43 L92.82 223.72 L92.96 223.01 L93.1 222.3 L93.26 221.58 L93.45 220.86 L93.67 220.13 L93.89 219.41 L94.13 218.69 L94.38 217.97 L94.62 217.24 L94.86 216.52 L95.1 215.8 L95.35 215.09 L95.63 214.38 L95.93 213.67 L96.23 212.96 L96.52 212.24 L96.78 211.53 L96.99 210.82 L97.13 210.11 L97.2 209.4 L97.22 208.7 L97.24 208 L97.25 207.3 L97.26 206.6 L97.27 205.9 L97.28 205.2 L97.29 204.5 L97.3 203.8 L97.31 203.1 L97.31 202.4 L97.32 201.7 L97.33 201 L97.33 200.3 L97.34 199.6 L97.35 198.9Z" fill="#e68e9e"/>
<line x1="91.6" y1="235.5" x2="103.6" y2="235.5" stroke="#d4486a" stroke-width="1.2"/>
<line x1="87.6" y1="248.5" x2="107.6" y2="248.5" stroke="#43252c" stroke-width="1.35"/>
<line x1="87.6" y1="269.5" x2="107.6" y2="269.5" stroke="#d4486a" stroke-width="1.2"/>
<circle cx="97.6" cy="198.9" r="1.75" fill="#cc0a2a"/>
<circle cx="97.6" cy="224.4" r="1.75" fill="#cc0a2a"/>
<circle cx="97.6" cy="230.3" r="1.75" fill="#cc0a2a"/>
<circle cx="97.6" cy="235.6" r="1.75" fill="#cc0a2a"/>
<circle cx="97.6" cy="245.6" r="1.75" fill="#cc0a2a"/>
<circle cx="97.6" cy="247.6" r="1.75" fill="#cc0a2a"/>
<circle cx="97.6" cy="253.7" r="1.75" fill="#cc0a2a"/>
<circle cx="97.6" cy="255.8" r="1.75" fill="#cc0a2a"/>
<circle cx="97.6" cy="262.6" r="1.75" fill="#cc0a2a"/>
<circle cx="97.6" cy="268.5" r="1.75" fill="#cc0a2a"/>
<circle cx="97.6" cy="270.6" r="1.75" fill="#cc0a2a"/>
<circle cx="97.6" cy="273.1" r="1.75" fill="#cc0a2a"/>
<path d="M160.55 185.4 L160.55 186.08 L160.56 186.76 L160.56 187.44 L160.56 188.11 L160.57 188.79 L160.57 189.47 L160.57 190.15 L160.57 190.83 L160.58 191.51 L160.58 192.18 L160.58 192.86 L160.58 193.54 L160.59 194.22 L160.59 194.9 L160.59 195.58 L160.59 196.25 L160.6 196.93 L160.6 197.61 L160.6 198.29 L160.6 198.97 L160.61 199.65 L160.61 200.32 L160.61 201 L160.62 201.68 L160.62 202.36 L160.63 203.04 L160.63 203.72 L160.64 204.39 L160.64 205.07 L160.65 205.75 L160.65 206.43 L160.66 207.11 L160.67 207.79 L160.67 208.46 L160.68 209.14 L160.69 209.82 L160.7 210.5 L160.74 211.22 L160.83 211.94 L160.96 212.66 L161.13 213.38 L161.32 214.1 L161.52 214.82 L161.73 215.54 L161.94 216.26 L162.13 216.98 L162.3 217.7 L162.46 218.42 L162.62 219.14 L162.79 219.86 L162.95 220.58 L163.11 221.3 L163.27 222.02 L163.42 222.74 L163.56 223.46 L163.69 224.18 L163.8 224.9 L163.9 225.59 L163.99 226.28 L164.08 226.98 L164.17 227.67 L164.25 228.36 L164.33 229.05 L164.41 229.75 L164.48 230.44 L164.55 231.13 L164.61 231.82 L164.68 232.52 L164.74 233.21 L164.8 233.9 L164.86 234.61 L164.9 235.32 L164.95 236.03 L164.99 236.74 L165.03 237.45 L165.07 238.16 L165.11 238.87 L165.17 239.58 L165.23 240.29 L165.3 241 L165.4 241.72 L165.54 242.44 L165.71 243.16 L165.91 243.88 L166.12 244.6 L166.35 245.32 L166.59 246.04 L166.83 246.76 L167.07 247.48 L167.3 248.2 L167.54 248.92 L167.82 249.64 L168.12 250.36 L168.43 251.08 L168.74 251.8 L169.03 252.52 L169.3 253.24 L169.52 253.96 L169.69 254.68 L169.8 255.4 L169.87 256.09 L169.93 256.78 L169.99 257.48 L170.04 258.17 L170.09 258.86 L170.14 259.55 L170.18 260.25 L170.22 260.94 L170.25 261.63 L170.27 262.32 L170.29 263.02 L170.3 263.71 L170.3 264.4 L170.3 265.12 L170.28 265.84 L170.26 266.56 L170.22 267.28 L170.18 268 L170.13 268.72 L170.06 269.44 L169.99 270.16 L169.9 270.88 L169.8 271.6 L169.59 272.28 L169.17 272.95 L168.57 273.62 L167.8 274.3 L166.71 274.8 L165.3 275.3 L155.3 275.3 L153.89 274.8 L152.8 274.3 L152.03 273.62 L151.43 272.95 L151.01 272.28 L150.8 271.6 L150.7 270.88 L150.61 270.16 L150.54 269.44 L150.47 268.72 L150.42 268 L150.38 267.28 L150.34 266.56 L150.32 265.84 L150.3 265.12 L150.3 264.4 L150.3 263.71 L150.31 263.02 L150.33 262.32 L150.35 261.63 L150.38 260.94 L150.42 260.25 L150.46 259.55 L150.51 258.86 L150.56 258.17 L150.61 257.48 L150.67 256.78 L150.73 256.09 L150.8 255.4 L150.91 254.68 L151.08 253.96 L151.3 253.24 L151.57 252.52 L151.86 251.8 L152.17 251.08 L152.48 250.36 L152.78 249.64 L153.06 248.92 L153.3 248.2 L153.53 247.48 L153.77 246.76 L154.01 246.04 L154.25 245.32 L154.48 244.6 L154.69 243.88 L154.89 243.16 L155.06 242.44 L155.2 241.72 L155.3 241 L155.37 240.29 L155.43 239.58 L155.49 238.87 L155.53 238.16 L155.57 237.45 L155.61 236.74 L155.65 236.03 L155.7 235.32 L155.74 234.61 L155.8 233.9 L155.86 233.21 L155.92 232.52 L155.99 231.82 L156.05 231.13 L156.12 230.44 L156.19 229.75 L156.27 229.05 L156.35 228.36 L156.43 227.67 L156.52 226.98 L156.61 226.28 L156.7 225.59 L156.8 224.9 L156.91 224.18 L157.04 223.46 L157.18 222.74 L157.33 222.02 L157.49 221.3 L157.65 220.58 L157.81 219.86 L157.98 219.14 L158.14 218.42 L158.3 217.7 L158.47 216.98 L158.66 216.26 L158.87 215.54 L159.08 214.82 L159.28 214.1 L159.47 213.38 L159.64 212.66 L159.77 211.94 L159.86 211.22 L159.9 210.5 L159.91 209.82 L159.92 209.14 L159.93 208.46 L159.93 207.79 L159.94 207.11 L159.95 206.43 L159.95 205.75 L159.96 205.07 L159.96 204.39 L159.97 203.72 L159.97 203.04 L159.98 202.36 L159.98 201.68 L159.99 201 L159.99 200.32 L159.99 199.65 L160 198.97 L160 198.29 L160 197.61 L160 196.93 L160.01 196.25 L160.01 195.58 L160.01 194.9 L160.01 194.22 L160.02 193.54 L160.02 192.86 L160.02 192.18 L160.02 191.51 L160.03 190.83 L160.03 190.15 L160.03 189.47 L160.03 188.79 L160.04 188.11 L160.04 187.44 L160.04 186.76 L160.05 186.08 L160.05 185.4Z" fill="#e68e9e"/>
<line x1="155.8" y1="233.5" x2="164.8" y2="233.5" stroke="#d4486a" stroke-width="1.2"/>
<line x1="150.3" y1="256.5" x2="170.3" y2="256.5" stroke="#43252c" stroke-width="1.35"/>
<line x1="150.3" y1="266.5" x2="170.3" y2="266.5" stroke="#d4486a" stroke-width="1.2"/>
<circle cx="160.3" cy="185.4" r="1.75" fill="#cc0a2a"/>
<circle cx="160.3" cy="198.9" r="1.75" fill="#cc0a2a"/>
<circle cx="160.3" cy="224.9" r="1.75" fill="#cc0a2a"/>
<circle cx="160.3" cy="230.8" r="1.75" fill="#cc0a2a"/>
<circle cx="160.3" cy="234.2" r="1.75" fill="#cc0a2a"/>
<circle cx="160.3" cy="245.5" r="1.75" fill="#cc0a2a"/>
<circle cx="160.3" cy="248.2" r="1.75" fill="#cc0a2a"/>
<circle cx="160.3" cy="253.6" r="1.75" fill="#cc0a2a"/>
<circle cx="160.3" cy="256.3" r="1.75" fill="#cc0a2a"/>
<circle cx="160.3" cy="259" r="1.75" fill="#cc0a2a"/>
<circle cx="160.3" cy="261.7" r="1.75" fill="#cc0a2a"/>
<circle cx="160.3" cy="268.9" r="1.75" fill="#cc0a2a"/>
<circle cx="160.3" cy="271.6" r="1.75" fill="#cc0a2a"/>
<circle cx="160.3" cy="274.3" r="1.75" fill="#cc0a2a"/>
<path d="M198.7 218.5 L199.2 219.3 L199.5 220.1 L199.49 220.88 L199.48 221.66 L199.46 222.44 L199.43 223.22 L199.4 224 L199.36 224.7 L199.31 225.4 L199.24 226.1 L199.17 226.8 L199.1 227.5 L199.02 228.17 L198.93 228.84 L198.83 229.51 L198.72 230.18 L198.62 230.85 L198.52 231.52 L198.43 232.19 L198.36 232.86 L198.32 233.53 L198.3 234.2 L198.33 234.88 L198.41 235.55 L198.52 236.22 L198.67 236.9 L198.84 237.57 L199.03 238.25 L199.22 238.92 L199.4 239.6 L199.6 240.28 L199.83 240.95 L200.09 241.62 L200.36 242.3 L200.64 242.97 L200.91 243.65 L201.17 244.32 L201.4 245 L201.61 245.68 L201.83 246.35 L202.03 247.03 L202.23 247.7 L202.42 248.38 L202.6 249.05 L202.76 249.72 L202.9 250.4 L203.02 251.07 L203.13 251.74 L203.22 252.41 L203.3 253.08 L203.39 253.75 L203.47 254.42 L203.56 255.09 L203.66 255.76 L203.77 256.43 L203.9 257.1 L204.07 257.77 L204.27 258.44 L204.52 259.11 L204.78 259.78 L205.06 260.45 L205.35 261.12 L205.64 261.79 L205.91 262.46 L206.17 263.13 L206.4 263.8 L206.63 264.48 L206.87 265.15 L207.13 265.82 L207.36 266.5 L207.58 267.18 L207.75 267.85 L207.86 268.52 L207.9 269.2 L207.87 269.88 L207.77 270.57 L207.63 271.25 L207.43 271.93 L207.18 272.62 L206.9 273.3 L206.3 273.98 L205.25 274.65 L204.03 275.32 L202.9 276 L192.9 276 L191.77 275.32 L190.55 274.65 L189.5 273.98 L188.9 273.3 L188.62 272.62 L188.37 271.93 L188.17 271.25 L188.03 270.57 L187.93 269.88 L187.9 269.2 L187.94 268.52 L188.05 267.85 L188.22 267.18 L188.44 266.5 L188.67 265.82 L188.93 265.15 L189.17 264.48 L189.4 263.8 L189.63 263.13 L189.89 262.46 L190.16 261.79 L190.45 261.12 L190.74 260.45 L191.02 259.78 L191.28 259.11 L191.53 258.44 L191.73 257.77 L191.9 257.1 L192.03 256.43 L192.14 255.76 L192.24 255.09 L192.33 254.42 L192.41 253.75 L192.5 253.08 L192.58 252.41 L192.67 251.74 L192.78 251.07 L192.9 250.4 L193.04 249.72 L193.2 249.05 L193.38 248.38 L193.57 247.7 L193.77 247.03 L193.97 246.35 L194.19 245.68 L194.4 245 L194.63 244.32 L194.89 243.65 L195.16 242.97 L195.44 242.3 L195.71 241.62 L195.97 240.95 L196.2 240.28 L196.4 239.6 L196.58 238.92 L196.77 238.25 L196.96 237.57 L197.13 236.9 L197.28 236.22 L197.39 235.55 L197.47 234.88 L197.5 234.2 L197.48 233.53 L197.44 232.86 L197.37 232.19 L197.28 231.52 L197.18 230.85 L197.08 230.18 L196.97 229.51 L196.87 228.84 L196.78 228.17 L196.7 227.5 L196.63 226.8 L196.56 226.1 L196.49 225.4 L196.44 224.7 L196.4 224 L196.37 223.22 L196.34 222.44 L196.32 221.66 L196.31 220.88 L196.3 220.1 L196.6 219.3 L197.1 218.5Z" fill="#e68e9e"/>
<line x1="192.9" y1="249.5" x2="202.9" y2="249.5" stroke="#d4486a" stroke-width="1.2"/>
<line x1="188.9" y1="266.5" x2="206.9" y2="266.5" stroke="#43252c" stroke-width="1.35"/>
<line x1="188.4" y1="271.5" x2="207.4" y2="271.5" stroke="#d4486a" stroke-width="1.2"/>
<circle cx="197.9" cy="220.1" r="1.75" fill="#cc0a2a"/>
<circle cx="197.9" cy="248.4" r="1.75" fill="#cc0a2a"/>
<circle cx="197.9" cy="256.4" r="1.75" fill="#cc0a2a"/>
<circle cx="197.9" cy="260.1" r="1.75" fill="#cc0a2a"/>
<circle cx="197.9" cy="265.2" r="1.75" fill="#cc0a2a"/>
<circle cx="197.9" cy="267.2" r="1.75" fill="#cc0a2a"/>
<circle cx="197.9" cy="269.9" r="1.75" fill="#cc0a2a"/>
<circle cx="197.9" cy="272.6" r="1.75" fill="#cc0a2a"/>
<circle cx="197.9" cy="275.5" r="1.75" fill="#cc0a2a"/>
<path d="M261.45 198.9 L261.45 199.57 L261.46 200.24 L261.46 200.91 L261.47 201.58 L261.47 202.25 L261.47 202.92 L261.48 203.59 L261.48 204.26 L261.48 204.93 L261.48 205.6 L261.49 206.27 L261.49 206.94 L261.49 207.61 L261.5 208.28 L261.5 208.95 L261.5 209.62 L261.51 210.29 L261.51 210.96 L261.51 211.63 L261.52 212.3 L261.52 212.97 L261.53 213.64 L261.54 214.31 L261.54 214.98 L261.55 215.65 L261.56 216.32 L261.57 216.99 L261.58 217.66 L261.59 218.33 L261.6 219 L261.66 219.73 L261.79 220.46 L261.97 221.19 L262.18 221.91 L262.38 222.64 L262.57 223.37 L262.7 224.1 L262.79 224.78 L262.88 225.46 L262.96 226.14 L263.03 226.82 L263.1 227.5 L263.16 228.18 L263.22 228.86 L263.28 229.54 L263.34 230.22 L263.4 230.9 L263.46 231.58 L263.51 232.26 L263.57 232.94 L263.64 233.62 L263.7 234.3 L263.77 234.98 L263.83 235.66 L263.89 236.34 L263.95 237.02 L264.01 237.7 L264.07 238.38 L264.13 239.06 L264.19 239.74 L264.25 240.42 L264.32 241.1 L264.39 241.78 L264.46 242.46 L264.53 243.14 L264.61 243.82 L264.7 244.5 L264.79 245.18 L264.89 245.86 L265 246.54 L265.12 247.22 L265.24 247.9 L265.36 248.58 L265.49 249.26 L265.63 249.94 L265.77 250.62 L265.92 251.3 L266.07 251.98 L266.22 252.66 L266.38 253.34 L266.54 254.02 L266.7 254.7 L266.87 255.38 L267.05 256.06 L267.25 256.74 L267.45 257.42 L267.66 258.1 L267.87 258.78 L268.08 259.46 L268.29 260.14 L268.5 260.82 L268.7 261.5 L268.92 262.24 L269.15 262.99 L269.37 263.73 L269.6 264.47 L269.81 265.21 L270.02 265.96 L270.2 266.7 L270.38 267.43 L270.57 268.16 L270.76 268.89 L270.93 269.61 L271.07 270.34 L271.17 271.07 L271.2 271.8 L271.1 272.5 L270.83 273.2 L270.45 273.9 L270.01 274.6 L269.58 275.3 L269.2 276 L253.2 276 L252.82 275.3 L252.39 274.6 L251.95 273.9 L251.57 273.2 L251.3 272.5 L251.2 271.8 L251.23 271.07 L251.33 270.34 L251.47 269.61 L251.64 268.89 L251.83 268.16 L252.02 267.43 L252.2 266.7 L252.38 265.96 L252.59 265.21 L252.8 264.47 L253.03 263.73 L253.25 262.99 L253.48 262.24 L253.7 261.5 L253.9 260.82 L254.11 260.14 L254.32 259.46 L254.53 258.78 L254.74 258.1 L254.95 257.42 L255.15 256.74 L255.35 256.06 L255.53 255.38 L255.7 254.7 L255.86 254.02 L256.02 253.34 L256.18 252.66 L256.33 251.98 L256.48 251.3 L256.63 250.62 L256.77 249.94 L256.91 249.26 L257.04 248.58 L257.16 247.9 L257.28 247.22 L257.4 246.54 L257.51 245.86 L257.61 245.18 L257.7 244.5 L257.79 243.82 L257.87 243.14 L257.94 242.46 L258.01 241.78 L258.08 241.1 L258.15 240.42 L258.21 239.74 L258.27 239.06 L258.33 238.38 L258.39 237.7 L258.45 237.02 L258.51 236.34 L258.57 235.66 L258.63 234.98 L258.7 234.3 L258.76 233.62 L258.83 232.94 L258.89 232.26 L258.94 231.58 L259 230.9 L259.06 230.22 L259.12 229.54 L259.18 228.86 L259.24 228.18 L259.3 227.5 L259.37 226.82 L259.44 226.14 L259.52 225.46 L259.61 224.78 L259.7 224.1 L259.83 223.37 L260.02 222.64 L260.22 221.91 L260.43 221.19 L260.61 220.46 L260.74 219.73 L260.8 219 L260.81 218.33 L260.82 217.66 L260.83 216.99 L260.84 216.32 L260.85 215.65 L260.86 214.98 L260.86 214.31 L260.87 213.64 L260.88 212.97 L260.88 212.3 L260.89 211.63 L260.89 210.96 L260.89 210.29 L260.9 209.62 L260.9 208.95 L260.9 208.28 L260.91 207.61 L260.91 206.94 L260.91 206.27 L260.92 205.6 L260.92 204.93 L260.92 204.26 L260.92 203.59 L260.93 202.92 L260.93 202.25 L260.93 201.58 L260.94 200.91 L260.94 200.24 L260.95 199.57 L260.95 198.9Z" fill="#e68e9e"/>
<line x1="252.2" y1="267.5" x2="270.2" y2="267.5" stroke="#43252c" stroke-width="1.35"/>
<line x1="251.2" y1="271.5" x2="271.2" y2="271.5" stroke="#d4486a" stroke-width="1.2"/>
<circle cx="261.2" cy="198.9" r="1.75" fill="#cc0a2a"/>
<circle cx="261.2" cy="230.4" r="1.75" fill="#cc0a2a"/>
<circle cx="261.2" cy="235.7" r="1.75" fill="#cc0a2a"/>
<circle cx="261.2" cy="245.4" r="1.75" fill="#cc0a2a"/>
<circle cx="261.2" cy="249.3" r="1.75" fill="#cc0a2a"/>
<circle cx="261.2" cy="255.6" r="1.75" fill="#cc0a2a"/>
<circle cx="261.2" cy="259.8" r="1.75" fill="#cc0a2a"/>
<circle cx="261.2" cy="262.9" r="1.75" fill="#cc0a2a"/>
<circle cx="261.2" cy="267.5" r="1.75" fill="#cc0a2a"/>
<circle cx="261.2" cy="270" r="1.75" fill="#cc0a2a"/>
<circle cx="261.2" cy="272.6" r="1.75" fill="#cc0a2a"/>
<circle cx="261.2" cy="275.2" r="1.75" fill="#cc0a2a"/>
<path d="M298.95 185.4 L298.96 186.09 L298.96 186.78 L298.97 187.47 L298.97 188.15 L298.97 188.84 L298.98 189.53 L298.98 190.22 L298.99 190.91 L298.99 191.6 L298.99 192.28 L299 192.97 L299 193.66 L299 194.35 L299.01 195.04 L299.01 195.73 L299.02 196.42 L299.02 197.1 L299.03 197.79 L299.04 198.48 L299.04 199.17 L299.05 199.86 L299.06 200.55 L299.07 201.23 L299.08 201.92 L299.09 202.61 L299.1 203.3 L299.12 203.99 L299.16 204.68 L299.21 205.38 L299.28 206.07 L299.36 206.76 L299.45 207.45 L299.54 208.15 L299.65 208.84 L299.76 209.53 L299.87 210.22 L299.98 210.92 L300.09 211.61 L300.2 212.3 L300.33 213.02 L300.5 213.74 L300.69 214.46 L300.89 215.18 L301.09 215.9 L301.28 216.62 L301.45 217.34 L301.58 218.06 L301.67 218.78 L301.7 219.5 L301.7 220.22 L301.7 220.94 L301.7 221.66 L301.7 222.38 L301.7 223.1 L301.7 223.82 L301.7 224.54 L301.7 225.26 L301.7 225.98 L301.7 226.7 L301.69 227.42 L301.68 228.14 L301.66 228.86 L301.63 229.58 L301.6 230.3 L301.57 231.02 L301.54 231.74 L301.52 232.46 L301.51 233.18 L301.5 233.9 L301.56 234.66 L301.72 235.41 L301.96 236.17 L302.25 236.93 L302.57 237.69 L302.89 238.44 L303.2 239.2 L303.5 239.92 L303.84 240.64 L304.2 241.36 L304.58 242.08 L304.98 242.8 L305.37 243.52 L305.74 244.24 L306.1 244.96 L306.42 245.68 L306.7 246.4 L306.96 247.12 L307.23 247.84 L307.51 248.56 L307.77 249.28 L308.02 250 L308.24 250.72 L308.43 251.44 L308.57 252.16 L308.67 252.88 L308.7 253.6 L308.7 254.28 L308.7 254.95 L308.7 255.62 L308.7 256.3 L308.7 256.98 L308.7 257.65 L308.7 258.32 L308.7 259 L308.62 259.68 L308.39 260.35 L308.05 261.02 L307.63 261.7 L307.15 262.38 L306.65 263.05 L306.16 263.72 L305.7 264.4 L305.25 265.07 L304.75 265.75 L304.23 266.43 L303.69 267.1 L303.16 267.77 L302.64 268.45 L302.15 269.12 L301.7 269.8 L301.3 270.48 L300.93 271.15 L300.57 271.82 L300.2 272.5 L297.2 272.5 L296.83 271.82 L296.47 271.15 L296.1 270.48 L295.7 269.8 L295.25 269.12 L294.76 268.45 L294.24 267.77 L293.71 267.1 L293.17 266.43 L292.65 265.75 L292.15 265.07 L291.7 264.4 L291.24 263.72 L290.75 263.05 L290.25 262.38 L289.77 261.7 L289.35 261.02 L289.01 260.35 L288.78 259.68 L288.7 259 L288.7 258.32 L288.7 257.65 L288.7 256.98 L288.7 256.3 L288.7 255.62 L288.7 254.95 L288.7 254.28 L288.7 253.6 L288.73 252.88 L288.83 252.16 L288.97 251.44 L289.16 250.72 L289.38 250 L289.63 249.28 L289.89 248.56 L290.17 247.84 L290.44 247.12 L290.7 246.4 L290.98 245.68 L291.3 244.96 L291.66 244.24 L292.03 243.52 L292.42 242.8 L292.82 242.08 L293.2 241.36 L293.56 240.64 L293.9 239.92 L294.2 239.2 L294.51 238.44 L294.83 237.69 L295.15 236.93 L295.44 236.17 L295.68 235.41 L295.84 234.66 L295.9 233.9 L295.89 233.18 L295.88 232.46 L295.86 231.74 L295.83 231.02 L295.8 230.3 L295.77 229.58 L295.74 228.86 L295.72 228.14 L295.71 227.42 L295.7 226.7 L295.7 225.98 L295.7 225.26 L295.7 224.54 L295.7 223.82 L295.7 223.1 L295.7 222.38 L295.7 221.66 L295.7 220.94 L295.7 220.22 L295.7 219.5 L295.73 218.78 L295.82 218.06 L295.95 217.34 L296.12 216.62 L296.31 215.9 L296.51 215.18 L296.71 214.46 L296.9 213.74 L297.07 213.02 L297.2 212.3 L297.31 211.61 L297.42 210.92 L297.53 210.22 L297.64 209.53 L297.75 208.84 L297.86 208.15 L297.95 207.45 L298.04 206.76 L298.12 206.07 L298.19 205.38 L298.24 204.68 L298.28 203.99 L298.3 203.3 L298.31 202.61 L298.32 201.92 L298.33 201.23 L298.34 200.55 L298.35 199.86 L298.36 199.17 L298.36 198.48 L298.37 197.79 L298.38 197.1 L298.38 196.42 L298.39 195.73 L298.39 195.04 L298.4 194.35 L298.4 193.66 L298.4 192.97 L298.41 192.28 L298.41 191.6 L298.41 190.91 L298.42 190.22 L298.42 189.53 L298.43 188.84 L298.43 188.15 L298.43 187.47 L298.44 186.78 L298.44 186.09 L298.45 185.4Z" fill="#e68e9e"/>
<line x1="295.2" y1="237.5" x2="302.2" y2="237.5" stroke="#d4486a" stroke-width="1.2"/>
<line x1="288.7" y1="255.5" x2="308.7" y2="255.5" stroke="#43252c" stroke-width="1.35"/>
<line x1="289.2" y1="259.5" x2="308.2" y2="259.5" stroke="#d4486a" stroke-width="1.2"/>
<circle cx="298.7" cy="185.4" r="1.75" fill="#cc0a2a"/>
<circle cx="298.7" cy="219.9" r="1.75" fill="#cc0a2a"/>
<circle cx="298.7" cy="224.9" r="1.75" fill="#cc0a2a"/>
<circle cx="298.7" cy="230.8" r="1.75" fill="#cc0a2a"/>
<circle cx="298.7" cy="234.2" r="1.75" fill="#cc0a2a"/>
<circle cx="298.7" cy="246.4" r="1.75" fill="#cc0a2a"/>
<circle cx="298.7" cy="248.6" r="1.75" fill="#cc0a2a"/>
<circle cx="298.7" cy="253.6" r="1.75" fill="#cc0a2a"/>
<circle cx="298.7" cy="256.8" r="1.75" fill="#cc0a2a"/>
<circle cx="298.7" cy="259.9" r="1.75" fill="#cc0a2a"/>
<circle cx="298.7" cy="262.9" r="1.75" fill="#cc0a2a"/>
<circle cx="298.7" cy="269.8" r="1.75" fill="#cc0a2a"/>
<path d="M361.65 198.8 L361.66 199.47 L361.67 200.14 L361.67 200.81 L361.68 201.48 L361.68 202.15 L361.69 202.82 L361.7 203.49 L361.7 204.16 L361.71 204.84 L361.72 205.51 L361.72 206.18 L361.73 206.85 L361.74 207.52 L361.75 208.19 L361.77 208.86 L361.78 209.53 L361.8 210.2 L361.85 210.88 L361.97 211.56 L362.13 212.23 L362.33 212.91 L362.53 213.59 L362.74 214.27 L362.93 214.94 L363.09 215.62 L363.2 216.3 L363.28 217 L363.36 217.7 L363.44 218.4 L363.52 219.1 L363.59 219.8 L363.65 220.5 L363.71 221.2 L363.77 221.9 L363.81 222.6 L363.85 223.3 L363.88 224 L363.89 224.7 L363.9 225.4 L363.9 226.11 L363.9 226.82 L363.9 227.52 L363.9 228.23 L363.9 228.94 L363.9 229.65 L363.9 230.35 L363.9 231.06 L363.9 231.77 L363.9 232.48 L363.9 233.18 L363.9 233.89 L363.9 234.6 L363.92 235.28 L363.98 235.96 L364.07 236.63 L364.19 237.31 L364.32 237.99 L364.46 238.67 L364.61 239.34 L364.76 240.02 L364.9 240.7 L365.04 241.38 L365.2 242.06 L365.38 242.73 L365.56 243.41 L365.74 244.09 L365.92 244.77 L366.09 245.44 L366.26 246.12 L366.4 246.8 L366.53 247.47 L366.64 248.13 L366.75 248.8 L366.85 249.47 L366.95 250.13 L367.05 250.8 L367.16 251.47 L367.27 252.13 L367.4 252.8 L367.54 253.48 L367.68 254.16 L367.83 254.83 L367.99 255.51 L368.15 256.19 L368.32 256.87 L368.51 257.54 L368.7 258.22 L368.9 258.9 L369.14 259.58 L369.44 260.26 L369.76 260.93 L370.11 261.61 L370.45 262.29 L370.77 262.97 L371.04 263.64 L371.26 264.32 L371.4 265 L371.49 265.68 L371.58 266.36 L371.65 267.03 L371.72 267.71 L371.78 268.39 L371.83 269.07 L371.87 269.74 L371.89 270.42 L371.9 271.1 L371.78 271.87 L371.44 272.63 L370.9 273.4 L370.2 274.17 L369.36 274.93 L368.4 275.7 L366.65 276.45 L364.4 277.2 L358.4 277.2 L356.15 276.45 L354.4 275.7 L353.44 274.93 L352.6 274.17 L351.9 273.4 L351.36 272.63 L351.02 271.87 L350.9 271.1 L350.91 270.42 L350.93 269.74 L350.97 269.07 L351.02 268.39 L351.08 267.71 L351.15 267.03 L351.22 266.36 L351.31 265.68 L351.4 265 L351.54 264.32 L351.76 263.64 L352.03 262.97 L352.35 262.29 L352.69 261.61 L353.04 260.93 L353.36 260.26 L353.66 259.58 L353.9 258.9 L354.1 258.22 L354.29 257.54 L354.48 256.87 L354.65 256.19 L354.81 255.51 L354.97 254.83 L355.12 254.16 L355.26 253.48 L355.4 252.8 L355.53 252.13 L355.64 251.47 L355.75 250.8 L355.85 250.13 L355.95 249.47 L356.05 248.8 L356.16 248.13 L356.27 247.47 L356.4 246.8 L356.54 246.12 L356.71 245.44 L356.88 244.77 L357.06 244.09 L357.24 243.41 L357.42 242.73 L357.6 242.06 L357.76 241.38 L357.9 240.7 L358.04 240.02 L358.19 239.34 L358.34 238.67 L358.48 237.99 L358.61 237.31 L358.73 236.63 L358.82 235.96 L358.88 235.28 L358.9 234.6 L358.9 233.89 L358.9 233.18 L358.9 232.48 L358.9 231.77 L358.9 231.06 L358.9 230.35 L358.9 229.65 L358.9 228.94 L358.9 228.23 L358.9 227.52 L358.9 226.82 L358.9 226.11 L358.9 225.4 L358.91 224.7 L358.92 224 L358.95 223.3 L358.99 222.6 L359.03 221.9 L359.09 221.2 L359.15 220.5 L359.21 219.8 L359.28 219.1 L359.36 218.4 L359.44 217.7 L359.52 217 L359.6 216.3 L359.71 215.62 L359.87 214.94 L360.06 214.27 L360.27 213.59 L360.47 212.91 L360.67 212.23 L360.83 211.56 L360.95 210.88 L361 210.2 L361.02 209.53 L361.03 208.86 L361.05 208.19 L361.06 207.52 L361.07 206.85 L361.08 206.18 L361.08 205.51 L361.09 204.84 L361.1 204.16 L361.1 203.49 L361.11 202.82 L361.12 202.15 L361.12 201.48 L361.13 200.81 L361.13 200.14 L361.14 199.47 L361.15 198.8Z" fill="#e68e9e"/>
<line x1="356.4" y1="246.5" x2="366.4" y2="246.5" stroke="#d4486a" stroke-width="1.2"/>
<line x1="353.4" y1="260.5" x2="369.4" y2="260.5" stroke="#43252c" stroke-width="1.35"/>
<line x1="350.9" y1="268.5" x2="371.9" y2="268.5" stroke="#d4486a" stroke-width="1.2"/>
<circle cx="361.4" cy="198.8" r="1.75" fill="#cc0a2a"/>
<circle cx="361.4" cy="220.1" r="1.75" fill="#cc0a2a"/>
<circle cx="361.4" cy="224.7" r="1.75" fill="#cc0a2a"/>
<circle cx="361.4" cy="230.5" r="1.75" fill="#cc0a2a"/>
<circle cx="361.4" cy="235.8" r="1.75" fill="#cc0a2a"/>
<circle cx="361.4" cy="245.5" r="1.75" fill="#cc0a2a"/>
<circle cx="361.4" cy="248" r="1.75" fill="#cc0a2a"/>
<circle cx="361.4" cy="250.5" r="1.75" fill="#cc0a2a"/>
<circle cx="361.4" cy="253" r="1.75" fill="#cc0a2a"/>
<circle cx="361.4" cy="255.5" r="1.75" fill="#cc0a2a"/>
<circle cx="361.4" cy="258" r="1.75" fill="#cc0a2a"/>
<circle cx="361.4" cy="260.5" r="1.75" fill="#cc0a2a"/>
<circle cx="361.4" cy="263" r="1.75" fill="#cc0a2a"/>
<circle cx="361.4" cy="265.5" r="1.75" fill="#cc0a2a"/>
<circle cx="361.4" cy="268" r="1.75" fill="#cc0a2a"/>
<circle cx="361.4" cy="270.5" r="1.75" fill="#cc0a2a"/>
<circle cx="361.4" cy="273" r="1.75" fill="#cc0a2a"/>
<circle cx="361.4" cy="275.5" r="1.75" fill="#cc0a2a"/>
<path d="M399.35 185.4 L399.35 186.07 L399.36 186.73 L399.36 187.4 L399.36 188.07 L399.36 188.74 L399.37 189.4 L399.37 190.07 L399.37 190.74 L399.37 191.41 L399.38 192.07 L399.38 192.74 L399.38 193.41 L399.38 194.08 L399.38 194.74 L399.39 195.41 L399.39 196.08 L399.39 196.75 L399.39 197.41 L399.39 198.08 L399.4 198.75 L399.4 199.42 L399.4 200.08 L399.4 200.75 L399.41 201.42 L399.41 202.09 L399.41 202.75 L399.41 203.42 L399.42 204.09 L399.42 204.76 L399.42 205.42 L399.43 206.09 L399.43 206.76 L399.44 207.43 L399.44 208.09 L399.45 208.76 L399.45 209.43 L399.46 210.1 L399.46 210.76 L399.47 211.43 L399.48 212.1 L399.48 212.77 L399.49 213.43 L399.5 214.1 L399.53 214.82 L399.6 215.54 L399.69 216.26 L399.81 216.98 L399.94 217.7 L400.09 218.42 L400.23 219.14 L400.37 219.86 L400.49 220.58 L400.6 221.3 L400.69 221.99 L400.76 222.68 L400.83 223.38 L400.9 224.07 L400.97 224.76 L401.03 225.45 L401.1 226.15 L401.16 226.84 L401.24 227.53 L401.31 228.22 L401.4 228.92 L401.49 229.61 L401.6 230.3 L401.73 231.02 L401.89 231.74 L402.06 232.46 L402.26 233.18 L402.47 233.9 L402.69 234.62 L402.91 235.34 L403.14 236.06 L403.37 236.78 L403.6 237.5 L403.83 238.21 L404.07 238.92 L404.33 239.63 L404.59 240.34 L404.85 241.05 L405.11 241.76 L405.37 242.47 L405.63 243.18 L405.87 243.89 L406.1 244.6 L406.32 245.32 L406.54 246.04 L406.76 246.76 L406.97 247.48 L407.18 248.2 L407.38 248.92 L407.58 249.64 L407.76 250.36 L407.94 251.08 L408.1 251.8 L408.26 252.48 L408.42 253.15 L408.59 253.82 L408.75 254.5 L408.89 255.18 L409 255.85 L409.07 256.52 L409.1 257.2 L409.05 257.92 L408.9 258.64 L408.67 259.36 L408.38 260.08 L408.03 260.8 L407.65 261.52 L407.26 262.24 L406.85 262.96 L406.46 263.68 L406.1 264.4 L405.76 265.07 L405.41 265.75 L405.04 266.43 L404.65 267.1 L404.26 267.77 L403.87 268.45 L403.48 269.12 L403.1 269.8 L402.68 270.55 L402.27 271.3 L401.85 272.05 L401.43 272.8 L401.02 273.55 L400.6 274.3 L397.6 274.3 L397.18 273.55 L396.77 272.8 L396.35 272.05 L395.93 271.3 L395.52 270.55 L395.1 269.8 L394.72 269.12 L394.33 268.45 L393.94 267.77 L393.55 267.1 L393.16 266.43 L392.79 265.75 L392.44 265.07 L392.1 264.4 L391.74 263.68 L391.35 262.96 L390.94 262.24 L390.55 261.52 L390.17 260.8 L389.82 260.08 L389.53 259.36 L389.3 258.64 L389.15 257.92 L389.1 257.2 L389.13 256.52 L389.2 255.85 L389.31 255.18 L389.45 254.5 L389.61 253.82 L389.78 253.15 L389.94 252.48 L390.1 251.8 L390.26 251.08 L390.44 250.36 L390.62 249.64 L390.82 248.92 L391.02 248.2 L391.23 247.48 L391.44 246.76 L391.66 246.04 L391.88 245.32 L392.1 244.6 L392.33 243.89 L392.57 243.18 L392.83 242.47 L393.09 241.76 L393.35 241.05 L393.61 240.34 L393.87 239.63 L394.13 238.92 L394.37 238.21 L394.6 237.5 L394.83 236.78 L395.06 236.06 L395.29 235.34 L395.51 234.62 L395.73 233.9 L395.94 233.18 L396.14 232.46 L396.31 231.74 L396.47 231.02 L396.6 230.3 L396.71 229.61 L396.8 228.92 L396.89 228.22 L396.96 227.53 L397.04 226.84 L397.1 226.15 L397.17 225.45 L397.23 224.76 L397.3 224.07 L397.37 223.38 L397.44 222.68 L397.51 221.99 L397.6 221.3 L397.71 220.58 L397.83 219.86 L397.97 219.14 L398.11 218.42 L398.26 217.7 L398.39 216.98 L398.51 216.26 L398.6 215.54 L398.67 214.82 L398.7 214.1 L398.71 213.43 L398.72 212.77 L398.72 212.1 L398.73 211.43 L398.74 210.76 L398.74 210.1 L398.75 209.43 L398.75 208.76 L398.76 208.09 L398.76 207.43 L398.77 206.76 L398.77 206.09 L398.78 205.42 L398.78 204.76 L398.78 204.09 L398.79 203.42 L398.79 202.75 L398.79 202.09 L398.79 201.42 L398.8 200.75 L398.8 200.08 L398.8 199.42 L398.8 198.75 L398.81 198.08 L398.81 197.41 L398.81 196.75 L398.81 196.08 L398.81 195.41 L398.82 194.74 L398.82 194.08 L398.82 193.41 L398.82 192.74 L398.82 192.07 L398.83 191.41 L398.83 190.74 L398.83 190.07 L398.83 189.4 L398.84 188.74 L398.84 188.07 L398.84 187.4 L398.84 186.73 L398.85 186.07 L398.85 185.4Z" fill="#e68e9e"/>
<line x1="396.1" y1="233.5" x2="402.1" y2="233.5" stroke="#d4486a" stroke-width="1.2"/>
<line x1="389.1" y1="256.5" x2="409.1" y2="256.5" stroke="#43252c" stroke-width="1.35"/>
<line x1="390.1" y1="260.5" x2="408.1" y2="260.5" stroke="#d4486a" stroke-width="1.2"/>
<circle cx="399.1" cy="185.4" r="1.75" fill="#cc0a2a"/>
<circle cx="399.1" cy="233.9" r="1.75" fill="#cc0a2a"/>
<circle cx="399.1" cy="248.2" r="1.75" fill="#cc0a2a"/>
<circle cx="399.1" cy="256.3" r="1.75" fill="#cc0a2a"/>
<circle cx="399.1" cy="260.8" r="1.75" fill="#cc0a2a"/>
<circle cx="399.1" cy="273.4" r="1.75" fill="#cc0a2a"/>
<path d="M461.75 198.9 L461.76 199.59 L461.76 200.28 L461.77 200.97 L461.77 201.66 L461.78 202.35 L461.78 203.05 L461.79 203.74 L461.79 204.43 L461.79 205.12 L461.8 205.81 L461.8 206.5 L461.81 207.19 L461.81 207.88 L461.82 208.57 L461.83 209.26 L461.83 209.95 L461.84 210.65 L461.85 211.34 L461.86 212.03 L461.87 212.72 L461.89 213.41 L461.9 214.1 L461.94 214.82 L462.04 215.54 L462.18 216.26 L462.35 216.98 L462.54 217.7 L462.74 218.42 L462.95 219.14 L463.15 219.86 L463.34 220.58 L463.5 221.3 L463.64 221.98 L463.78 222.65 L463.93 223.32 L464.07 224 L464.2 224.68 L464.32 225.35 L464.42 226.02 L464.5 226.7 L464.57 227.42 L464.62 228.14 L464.67 228.86 L464.71 229.58 L464.75 230.3 L464.79 231.02 L464.83 231.74 L464.88 232.46 L464.93 233.18 L465 233.9 L465.08 234.61 L465.19 235.32 L465.31 236.03 L465.45 236.74 L465.6 237.45 L465.76 238.16 L465.94 238.87 L466.12 239.58 L466.31 240.29 L466.5 241 L466.7 241.68 L466.94 242.35 L467.2 243.03 L467.47 243.7 L467.75 244.38 L468.02 245.05 L468.27 245.72 L468.5 246.4 L468.71 247.08 L468.91 247.75 L469.11 248.43 L469.3 249.1 L469.49 249.78 L469.66 250.45 L469.84 251.12 L470 251.8 L470.18 252.52 L470.38 253.24 L470.58 253.96 L470.78 254.68 L470.97 255.4 L471.14 256.12 L471.28 256.84 L471.4 257.56 L471.47 258.28 L471.5 259 L471.5 259.72 L471.5 260.44 L471.5 261.16 L471.5 261.88 L471.5 262.6 L471.5 263.32 L471.5 264.04 L471.5 264.76 L471.5 265.48 L471.5 266.2 L471.5 266.88 L471.5 267.55 L471.5 268.23 L471.5 268.9 L471.5 269.57 L471.5 270.25 L471.5 270.93 L471.5 271.6 L471.28 272.28 L470.75 272.95 L470.09 273.62 L469.5 274.3 L453.5 274.3 L452.91 273.62 L452.25 272.95 L451.72 272.28 L451.5 271.6 L451.5 270.93 L451.5 270.25 L451.5 269.57 L451.5 268.9 L451.5 268.23 L451.5 267.55 L451.5 266.88 L451.5 266.2 L451.5 265.48 L451.5 264.76 L451.5 264.04 L451.5 263.32 L451.5 262.6 L451.5 261.88 L451.5 261.16 L451.5 260.44 L451.5 259.72 L451.5 259 L451.53 258.28 L451.6 257.56 L451.72 256.84 L451.86 256.12 L452.03 255.4 L452.22 254.68 L452.42 253.96 L452.62 253.24 L452.82 252.52 L453 251.8 L453.16 251.12 L453.34 250.45 L453.51 249.78 L453.7 249.1 L453.89 248.43 L454.09 247.75 L454.29 247.08 L454.5 246.4 L454.73 245.72 L454.98 245.05 L455.25 244.38 L455.53 243.7 L455.8 243.03 L456.06 242.35 L456.3 241.68 L456.5 241 L456.69 240.29 L456.88 239.58 L457.06 238.87 L457.24 238.16 L457.4 237.45 L457.55 236.74 L457.69 236.03 L457.81 235.32 L457.92 234.61 L458 233.9 L458.07 233.18 L458.12 232.46 L458.17 231.74 L458.21 231.02 L458.25 230.3 L458.29 229.58 L458.33 228.86 L458.38 228.14 L458.43 227.42 L458.5 226.7 L458.58 226.02 L458.68 225.35 L458.8 224.68 L458.93 224 L459.07 223.32 L459.22 222.65 L459.36 221.98 L459.5 221.3 L459.66 220.58 L459.85 219.86 L460.05 219.14 L460.26 218.42 L460.46 217.7 L460.65 216.98 L460.82 216.26 L460.96 215.54 L461.06 214.82 L461.1 214.1 L461.11 213.41 L461.13 212.72 L461.14 212.03 L461.15 211.34 L461.16 210.65 L461.17 209.95 L461.17 209.26 L461.18 208.57 L461.19 207.88 L461.19 207.19 L461.2 206.5 L461.2 205.81 L461.21 205.12 L461.21 204.43 L461.21 203.74 L461.22 203.05 L461.22 202.35 L461.23 201.66 L461.23 200.97 L461.24 200.28 L461.24 199.59 L461.25 198.9Z" fill="#e68e9e"/>
<line x1="454.5" y1="246.5" x2="468.5" y2="246.5" stroke="#d4486a" stroke-width="1.2"/>
<line x1="451.5" y1="258.5" x2="471.5" y2="258.5" stroke="#43252c" stroke-width="1.35"/>
<line x1="451.5" y1="267.5" x2="471.5" y2="267.5" stroke="#d4486a" stroke-width="1.2"/>
<circle cx="461.5" cy="198.9" r="1.75" fill="#cc0a2a"/>
<circle cx="461.5" cy="224.9" r="1.75" fill="#cc0a2a"/>
<circle cx="461.5" cy="230.8" r="1.75" fill="#cc0a2a"/>
<circle cx="461.5" cy="235.7" r="1.75" fill="#cc0a2a"/>
<circle cx="461.5" cy="245.5" r="1.75" fill="#cc0a2a"/>
<circle cx="461.5" cy="248" r="1.75" fill="#cc0a2a"/>
<circle cx="461.5" cy="250.5" r="1.75" fill="#cc0a2a"/>
<circle cx="461.5" cy="253" r="1.75" fill="#cc0a2a"/>
<circle cx="461.5" cy="255.5" r="1.75" fill="#cc0a2a"/>
<circle cx="461.5" cy="258" r="1.75" fill="#cc0a2a"/>
<circle cx="461.5" cy="260.5" r="1.75" fill="#cc0a2a"/>
<circle cx="461.5" cy="263" r="1.75" fill="#cc0a2a"/>
<circle cx="461.5" cy="265.5" r="1.75" fill="#cc0a2a"/>
<circle cx="461.5" cy="268" r="1.75" fill="#cc0a2a"/>
<circle cx="461.5" cy="270.5" r="1.75" fill="#cc0a2a"/>
<circle cx="461.5" cy="273" r="1.75" fill="#cc0a2a"/>
<circle cx="461.5" cy="274.3" r="1.75" fill="#cc0a2a"/>
<path d="M499.35 185.4 L499.36 186.08 L499.36 186.76 L499.37 187.44 L499.37 188.12 L499.37 188.8 L499.38 189.48 L499.38 190.16 L499.38 190.84 L499.39 191.52 L499.39 192.2 L499.39 192.88 L499.39 193.56 L499.4 194.24 L499.4 194.92 L499.41 195.6 L499.41 196.28 L499.42 196.96 L499.42 197.64 L499.43 198.32 L499.44 199 L499.45 199.68 L499.46 200.36 L499.47 201.04 L499.49 201.72 L499.5 202.4 L499.62 203.07 L499.87 203.75 L500.14 204.43 L500.3 205.1 L500.37 205.78 L500.43 206.45 L500.49 207.12 L500.54 207.8 L500.59 208.47 L500.63 209.15 L500.67 209.82 L500.71 210.5 L500.74 211.18 L500.77 211.85 L500.8 212.53 L500.82 213.2 L500.84 213.88 L500.86 214.55 L500.88 215.22 L500.9 215.9 L500.92 216.58 L500.94 217.25 L500.96 217.93 L500.97 218.6 L500.99 219.28 L501.01 219.95 L501.02 220.62 L501.04 221.3 L501.05 221.97 L501.06 222.65 L501.07 223.32 L501.08 224 L501.09 224.67 L501.1 225.35 L501.1 226.02 L501.1 226.7 L501.09 227.42 L501.08 228.14 L501.06 228.86 L501.03 229.58 L501 230.3 L500.97 231.02 L500.94 231.74 L500.92 232.46 L500.91 233.18 L500.9 233.9 L500.91 234.61 L500.94 235.32 L500.98 236.03 L501.04 236.74 L501.11 237.45 L501.2 238.16 L501.29 238.87 L501.39 239.58 L501.49 240.29 L501.6 241 L501.74 241.72 L501.93 242.44 L502.16 243.16 L502.43 243.88 L502.71 244.6 L503.01 245.32 L503.3 246.04 L503.59 246.76 L503.86 247.48 L504.1 248.2 L504.32 248.92 L504.54 249.64 L504.75 250.36 L504.95 251.08 L505.15 251.8 L505.35 252.52 L505.55 253.24 L505.73 253.96 L505.92 254.68 L506.1 255.4 L506.27 256.09 L506.44 256.78 L506.61 257.48 L506.78 258.17 L506.95 258.86 L507.11 259.55 L507.27 260.25 L507.42 260.94 L507.57 261.63 L507.71 262.32 L507.85 263.02 L507.98 263.71 L508.1 264.4 L508.23 265.12 L508.36 265.84 L508.5 266.56 L508.63 267.28 L508.75 268 L508.87 268.72 L508.96 269.44 L509.04 270.16 L509.08 270.88 L509.1 271.6 L509.05 272.33 L508.91 273.07 L508.73 273.8 L508.51 274.53 L508.29 275.27 L508.1 276 L490.1 276 L489.91 275.27 L489.69 274.53 L489.48 273.8 L489.29 273.07 L489.15 272.33 L489.1 271.6 L489.12 270.88 L489.16 270.16 L489.24 269.44 L489.33 268.72 L489.45 268 L489.57 267.28 L489.7 266.56 L489.84 265.84 L489.97 265.12 L490.1 264.4 L490.22 263.71 L490.35 263.02 L490.49 262.32 L490.63 261.63 L490.78 260.94 L490.93 260.25 L491.09 259.55 L491.25 258.86 L491.42 258.17 L491.59 257.48 L491.76 256.78 L491.93 256.09 L492.1 255.4 L492.28 254.68 L492.47 253.96 L492.65 253.24 L492.85 252.52 L493.05 251.8 L493.25 251.08 L493.45 250.36 L493.66 249.64 L493.88 248.92 L494.1 248.2 L494.34 247.48 L494.61 246.76 L494.9 246.04 L495.19 245.32 L495.49 244.6 L495.77 243.88 L496.04 243.16 L496.27 242.44 L496.46 241.72 L496.6 241 L496.71 240.29 L496.81 239.58 L496.91 238.87 L497 238.16 L497.09 237.45 L497.16 236.74 L497.22 236.03 L497.26 235.32 L497.29 234.61 L497.3 233.9 L497.29 233.18 L497.28 232.46 L497.26 231.74 L497.23 231.02 L497.2 230.3 L497.17 229.58 L497.14 228.86 L497.12 228.14 L497.11 227.42 L497.1 226.7 L497.1 226.02 L497.1 225.35 L497.11 224.67 L497.12 224 L497.13 223.32 L497.14 222.65 L497.15 221.97 L497.16 221.3 L497.18 220.62 L497.19 219.95 L497.21 219.28 L497.23 218.6 L497.24 217.93 L497.26 217.25 L497.28 216.58 L497.3 215.9 L497.32 215.22 L497.34 214.55 L497.36 213.88 L497.38 213.2 L497.4 212.53 L497.43 211.85 L497.46 211.18 L497.49 210.5 L497.53 209.82 L497.57 209.15 L497.61 208.47 L497.66 207.8 L497.71 207.12 L497.77 206.45 L497.83 205.78 L497.9 205.1 L498.06 204.43 L498.33 203.75 L498.58 203.07 L498.7 202.4 L498.71 201.72 L498.73 201.04 L498.74 200.36 L498.75 199.68 L498.76 199 L498.77 198.32 L498.78 197.64 L498.78 196.96 L498.79 196.28 L498.79 195.6 L498.8 194.92 L498.8 194.24 L498.81 193.56 L498.81 192.88 L498.81 192.2 L498.81 191.52 L498.82 190.84 L498.82 190.16 L498.82 189.48 L498.83 188.8 L498.83 188.12 L498.83 187.44 L498.84 186.76 L498.84 186.08 L498.85 185.4Z" fill="#e68e9e"/>
<line x1="495.6" y1="244.5" x2="502.6" y2="244.5" stroke="#d4486a" stroke-width="1.2"/>
<line x1="490.6" y1="262.5" x2="507.6" y2="262.5" stroke="#43252c" stroke-width="1.35"/>
<line x1="489.1" y1="272.5" x2="509.1" y2="272.5" stroke="#d4486a" stroke-width="1.2"/>
<circle cx="499.1" cy="185.4" r="1.75" fill="#cc0a2a"/>
<circle cx="499.1" cy="220.4" r="1.75" fill="#cc0a2a"/>
<circle cx="499.1" cy="231.2" r="1.75" fill="#cc0a2a"/>
<circle cx="499.1" cy="248.2" r="1.75" fill="#cc0a2a"/>
<circle cx="499.1" cy="254" r="1.75" fill="#cc0a2a"/>
<circle cx="499.1" cy="258.1" r="1.75" fill="#cc0a2a"/>
<circle cx="499.1" cy="262.6" r="1.75" fill="#cc0a2a"/>
<circle cx="499.1" cy="268.9" r="1.75" fill="#cc0a2a"/>
<circle cx="499.1" cy="271.6" r="1.75" fill="#cc0a2a"/>
<circle cx="499.1" cy="274.3" r="1.75" fill="#cc0a2a"/>
<circle cx="499.1" cy="276" r="1.75" fill="#cc0a2a"/>
<line x1="61.5" y1="366" x2="61.5" y2="526.3" stroke="#231f20" stroke-width="1.1"/>
<line x1="58.1" y1="525.7" x2="135.8" y2="525.7" stroke="#231f20" stroke-width="1.1"/>
<text x="55.3" y="527.9" font-size="8.3" text-anchor="end" font-weight="normal" fill="#231f20" textLength="4.45" lengthAdjust="spacingAndGlyphs">0</text>
<line x1="59.8" y1="512.74" x2="61.5" y2="512.74" stroke="#231f20" stroke-width="0.9"/>
<line x1="58.3" y1="499.77" x2="61.5" y2="499.77" stroke="#231f20" stroke-width="1.0"/>
<text x="55.3" y="501.97" font-size="8.3" text-anchor="end" font-weight="normal" fill="#231f20" textLength="8.9" lengthAdjust="spacingAndGlyphs">10</text>
<line x1="59.8" y1="486.81" x2="61.5" y2="486.81" stroke="#231f20" stroke-width="0.9"/>
<line x1="58.3" y1="473.84" x2="61.5" y2="473.84" stroke="#231f20" stroke-width="1.0"/>
<text x="55.3" y="476.04" font-size="8.3" text-anchor="end" font-weight="normal" fill="#231f20" textLength="8.9" lengthAdjust="spacingAndGlyphs">20</text>
<line x1="59.8" y1="460.88" x2="61.5" y2="460.88" stroke="#231f20" stroke-width="0.9"/>
<line x1="58.3" y1="447.91" x2="61.5" y2="447.91" stroke="#231f20" stroke-width="1.0"/>
<text x="55.3" y="450.11" font-size="8.3" text-anchor="end" font-weight="normal" fill="#231f20" textLength="8.9" lengthAdjust="spacingAndGlyphs">30</text>
<line x1="59.8" y1="434.95" x2="61.5" y2="434.95" stroke="#231f20" stroke-width="0.9"/>
<line x1="58.3" y1="421.98" x2="61.5" y2="421.98" stroke="#231f20" stroke-width="1.0"/>
<text x="55.3" y="424.18" font-size="8.3" text-anchor="end" font-weight="normal" fill="#231f20" textLength="8.9" lengthAdjust="spacingAndGlyphs">40</text>
<line x1="59.8" y1="409.02" x2="61.5" y2="409.02" stroke="#231f20" stroke-width="0.9"/>
<line x1="58.3" y1="396.05" x2="61.5" y2="396.05" stroke="#231f20" stroke-width="1.0"/>
<text x="55.3" y="398.25" font-size="8.3" text-anchor="end" font-weight="normal" fill="#231f20" textLength="8.9" lengthAdjust="spacingAndGlyphs">50</text>
<line x1="59.8" y1="383.09" x2="61.5" y2="383.09" stroke="#231f20" stroke-width="0.9"/>
<line x1="58.3" y1="370.12" x2="61.5" y2="370.12" stroke="#231f20" stroke-width="1.0"/>
<text x="55.3" y="372.32" font-size="8.3" text-anchor="end" font-weight="normal" fill="#231f20" textLength="8.9" lengthAdjust="spacingAndGlyphs">60</text>
<line x1="84.6" y1="525.7" x2="84.6" y2="528.9" stroke="#231f20" stroke-width="0.9"/>
<line x1="122" y1="525.7" x2="122" y2="528.9" stroke="#231f20" stroke-width="0.9"/>
<text transform="translate(40.3 445.2) rotate(-90)" font-size="9" text-anchor="middle" fill="#231f20" textLength="142.5" lengthAdjust="spacingAndGlyphs">%C34 (CD4<tspan font-size="7" dy="-2.2">+</tspan><tspan dy="2.2">CD161</tspan><tspan font-size="7" dy="-2.2">+</tspan><tspan dy="2.2">) in CD4 T cells (at M3)</tspan></text>
<path d="M84.6 393.4 V375.4 H122 V381.6" fill="none" stroke="#231f20" stroke-width="1.1"/>
<text x="103" y="376.2" font-size="11" text-anchor="middle" font-weight="normal" fill="#231f20">*</text>
<text x="84.6" y="540.4" font-size="8.5" text-anchor="middle" font-weight="normal" fill="#231f20" textLength="9.84" lengthAdjust="spacingAndGlyphs">No</text>
<text x="84.6" y="549.4" font-size="8.5" text-anchor="middle" font-weight="normal" fill="#231f20" textLength="25.25" lengthAdjust="spacingAndGlyphs">relapse</text>
<text x="122" y="540.4" font-size="8.5" text-anchor="middle" font-weight="normal" fill="#231f20" textLength="15.4" lengthAdjust="spacingAndGlyphs">With</text>
<text x="122" y="549.4" font-size="8.5" text-anchor="middle" font-weight="normal" fill="#231f20" textLength="25.25" lengthAdjust="spacingAndGlyphs">relapse</text>
<path d="M85.9 417.7 L86.09 418.52 L86.28 419.35 L86.46 420.18 L86.6 421 L86.69 421.67 L86.79 422.33 L86.88 423 L86.97 423.67 L87.04 424.33 L87.11 425 L87.16 425.67 L87.19 426.33 L87.2 427 L87.19 427.69 L87.16 428.38 L87.12 429.07 L87.07 429.76 L87.01 430.45 L86.93 431.14 L86.85 431.83 L86.77 432.52 L86.69 433.21 L86.6 433.9 L86.49 434.63 L86.35 435.36 L86.18 436.09 L86.01 436.81 L85.85 437.54 L85.71 438.27 L85.6 439 L85.51 439.71 L85.43 440.42 L85.35 441.12 L85.27 441.83 L85.19 442.54 L85.12 443.25 L85.06 443.96 L85.01 444.67 L84.96 445.38 L84.93 446.08 L84.91 446.79 L84.9 447.5 L84.92 448.25 L84.98 449 L85.06 449.75 L85.17 450.5 L85.28 451.25 L85.4 452 L85.52 452.67 L85.67 453.33 L85.84 454 L86.03 454.67 L86.22 455.33 L86.4 456 L86.59 456.73 L86.79 457.46 L86.99 458.19 L87.19 458.91 L87.41 459.64 L87.64 460.37 L87.9 461.1 L88.19 461.83 L88.51 462.56 L88.86 463.29 L89.23 464.01 L89.62 464.74 L90.01 465.47 L90.4 466.2 L90.82 466.93 L91.28 467.66 L91.75 468.39 L92.23 469.11 L92.67 469.84 L93.07 470.57 L93.4 471.3 L93.69 472.03 L93.99 472.76 L94.27 473.49 L94.52 474.21 L94.72 474.94 L94.85 475.67 L94.9 476.4 L94.89 477.14 L94.85 477.89 L94.79 478.63 L94.72 479.37 L94.62 480.11 L94.52 480.86 L94.4 481.6 L94.21 482.33 L93.88 483.06 L93.46 483.79 L92.97 484.51 L92.45 485.24 L91.91 485.97 L91.4 486.7 L90.86 487.43 L90.23 488.16 L89.57 488.89 L88.92 489.61 L88.31 490.34 L87.79 491.07 L87.4 491.8 L87.12 492.53 L86.88 493.26 L86.67 493.99 L86.48 494.71 L86.3 495.44 L86.11 496.17 L85.9 496.9 L85.65 497.7 L85.4 498.5 L83.4 498.5 L83.15 497.7 L82.9 496.9 L82.69 496.17 L82.5 495.44 L82.32 494.71 L82.13 493.99 L81.92 493.26 L81.68 492.53 L81.4 491.8 L81.01 491.07 L80.49 490.34 L79.88 489.61 L79.23 488.89 L78.57 488.16 L77.94 487.43 L77.4 486.7 L76.89 485.97 L76.35 485.24 L75.83 484.51 L75.34 483.79 L74.92 483.06 L74.59 482.33 L74.4 481.6 L74.28 480.86 L74.18 480.11 L74.08 479.37 L74.01 478.63 L73.95 477.89 L73.91 477.14 L73.9 476.4 L73.95 475.67 L74.08 474.94 L74.28 474.21 L74.53 473.49 L74.81 472.76 L75.11 472.03 L75.4 471.3 L75.73 470.57 L76.13 469.84 L76.57 469.11 L77.05 468.39 L77.52 467.66 L77.98 466.93 L78.4 466.2 L78.79 465.47 L79.18 464.74 L79.57 464.01 L79.94 463.29 L80.29 462.56 L80.61 461.83 L80.9 461.1 L81.16 460.37 L81.39 459.64 L81.61 458.91 L81.81 458.19 L82.01 457.46 L82.21 456.73 L82.4 456 L82.58 455.33 L82.77 454.67 L82.96 454 L83.13 453.33 L83.28 452.67 L83.4 452 L83.52 451.25 L83.63 450.5 L83.74 449.75 L83.82 449 L83.88 448.25 L83.9 447.5 L83.89 446.79 L83.87 446.08 L83.84 445.38 L83.79 444.67 L83.74 443.96 L83.68 443.25 L83.61 442.54 L83.53 441.83 L83.45 441.12 L83.37 440.42 L83.29 439.71 L83.2 439 L83.09 438.27 L82.95 437.54 L82.79 436.81 L82.62 436.09 L82.45 435.36 L82.31 434.63 L82.2 433.9 L82.11 433.21 L82.03 432.52 L81.95 431.83 L81.87 431.14 L81.79 430.45 L81.73 429.76 L81.68 429.07 L81.64 428.38 L81.61 427.69 L81.6 427 L81.61 426.33 L81.64 425.67 L81.69 425 L81.76 424.33 L81.83 423.67 L81.92 423 L82.01 422.33 L82.11 421.67 L82.2 421 L82.34 420.18 L82.52 419.35 L82.71 418.52 L82.9 417.7Z" fill="#8eadcb"/>
<line x1="74.4" y1="474.5" x2="94.4" y2="474.5" stroke="#35689a" stroke-width="1.0"/>
<line x1="74.4" y1="482.5" x2="94.4" y2="482.5" stroke="#35689a" stroke-width="1.0"/>
<circle cx="84.4" cy="417.7" r="2.1" fill="#0a2148"/>
<circle cx="84.4" cy="427" r="2.1" fill="#0a2148"/>
<circle cx="84.4" cy="430.1" r="2.1" fill="#0a2148"/>
<circle cx="84.4" cy="431.8" r="2.1" fill="#0a2148"/>
<circle cx="84.4" cy="436.4" r="2.1" fill="#0a2148"/>
<circle cx="84.4" cy="456.8" r="2.1" fill="#0a2148"/>
<circle cx="84.4" cy="464.5" r="2.1" fill="#0a2148"/>
<circle cx="84.4" cy="471.3" r="2.1" fill="#0a2148"/>
<circle cx="84.4" cy="473.9" r="2.1" fill="#0a2148"/>
<circle cx="84.4" cy="476.4" r="2.1" fill="#0a2148"/>
<circle cx="84.4" cy="479.8" r="2.1" fill="#0a2148"/>
<circle cx="84.4" cy="482.4" r="2.1" fill="#0a2148"/>
<circle cx="84.4" cy="485" r="2.1" fill="#0a2148"/>
<circle cx="84.4" cy="486.7" r="2.1" fill="#0a2148"/>
<circle cx="84.4" cy="497.7" r="2.1" fill="#0a2148"/>
<path d="M122.7 400.5 L123.04 401.25 L123.4 402 L123.76 402.75 L124.11 403.5 L124.42 404.25 L124.7 405 L124.94 405.74 L125.17 406.48 L125.38 407.22 L125.56 407.96 L125.7 408.7 L125.82 409.42 L125.93 410.13 L126.04 410.85 L126.15 411.56 L126.25 412.28 L126.35 412.99 L126.43 413.71 L126.51 414.42 L126.57 415.14 L126.63 415.85 L126.67 416.57 L126.69 417.28 L126.7 418 L126.67 418.72 L126.6 419.43 L126.5 420.15 L126.36 420.86 L126.21 421.58 L126.04 422.29 L125.86 423.01 L125.69 423.72 L125.54 424.44 L125.4 425.15 L125.3 425.87 L125.23 426.58 L125.2 427.3 L125.25 428 L125.37 428.7 L125.57 429.4 L125.82 430.1 L126.11 430.8 L126.43 431.5 L126.76 432.2 L127.09 432.9 L127.41 433.6 L127.7 434.3 L128 435.02 L128.32 435.73 L128.67 436.45 L129.03 437.16 L129.4 437.88 L129.77 438.59 L130.13 439.31 L130.48 440.02 L130.8 440.74 L131.09 441.45 L131.34 442.17 L131.55 442.88 L131.7 443.6 L131.81 444.27 L131.92 444.94 L132.03 445.61 L132.13 446.29 L132.23 446.96 L132.32 447.63 L132.4 448.3 L132.47 448.97 L132.54 449.64 L132.6 450.31 L132.64 450.99 L132.67 451.66 L132.69 452.33 L132.7 453 L132.69 453.68 L132.65 454.36 L132.6 455.05 L132.52 455.73 L132.43 456.41 L132.32 457.09 L132.2 457.78 L132.07 458.46 L131.93 459.14 L131.78 459.82 L131.62 460.51 L131.47 461.19 L131.31 461.87 L131.15 462.55 L131 463.24 L130.84 463.92 L130.7 464.6 L130.56 465.29 L130.41 465.98 L130.25 466.66 L130.09 467.35 L129.93 468.04 L129.76 468.73 L129.58 469.42 L129.41 470.11 L129.23 470.79 L129.04 471.48 L128.86 472.17 L128.67 472.86 L128.48 473.55 L128.29 474.24 L128.09 474.92 L127.9 475.61 L127.7 476.3 L127.49 477.02 L127.26 477.73 L127.03 478.45 L126.79 479.16 L126.54 479.88 L126.29 480.59 L126.04 481.31 L125.79 482.02 L125.55 482.74 L125.32 483.45 L125.1 484.17 L124.89 484.88 L124.7 485.6 L124.52 486.27 L124.34 486.94 L124.14 487.61 L123.95 488.29 L123.76 488.96 L123.58 489.63 L123.4 490.3 L123.23 490.97 L123.09 491.64 L122.96 492.31 L122.85 492.99 L122.77 493.66 L122.72 494.33 L122.7 495 L122.7 495.68 L122.7 496.35 L122.7 497.02 L122.7 497.7 L122.7 498.38 L122.7 499.05 L122.7 499.73 L122.7 500.4 L122.7 501.08 L122.7 501.75 L122.7 502.43 L122.7 503.1 L120.7 503.1 L120.7 502.43 L120.7 501.75 L120.7 501.08 L120.7 500.4 L120.7 499.73 L120.7 499.05 L120.7 498.38 L120.7 497.7 L120.7 497.02 L120.7 496.35 L120.7 495.68 L120.7 495 L120.68 494.33 L120.63 493.66 L120.55 492.99 L120.44 492.31 L120.31 491.64 L120.17 490.97 L120 490.3 L119.82 489.63 L119.64 488.96 L119.45 488.29 L119.26 487.61 L119.06 486.94 L118.88 486.27 L118.7 485.6 L118.51 484.88 L118.3 484.17 L118.08 483.45 L117.85 482.74 L117.61 482.02 L117.36 481.31 L117.11 480.59 L116.86 479.88 L116.61 479.16 L116.37 478.45 L116.14 477.73 L115.91 477.02 L115.7 476.3 L115.5 475.61 L115.31 474.92 L115.11 474.24 L114.92 473.55 L114.73 472.86 L114.54 472.17 L114.36 471.48 L114.17 470.79 L113.99 470.11 L113.82 469.42 L113.64 468.73 L113.47 468.04 L113.31 467.35 L113.15 466.66 L112.99 465.98 L112.84 465.29 L112.7 464.6 L112.56 463.92 L112.4 463.24 L112.25 462.55 L112.09 461.87 L111.93 461.19 L111.78 460.51 L111.62 459.82 L111.47 459.14 L111.33 458.46 L111.2 457.78 L111.08 457.09 L110.97 456.41 L110.88 455.73 L110.8 455.05 L110.75 454.36 L110.71 453.68 L110.7 453 L110.71 452.33 L110.73 451.66 L110.76 450.99 L110.8 450.31 L110.86 449.64 L110.93 448.97 L111 448.3 L111.08 447.63 L111.17 446.96 L111.27 446.29 L111.37 445.61 L111.48 444.94 L111.59 444.27 L111.7 443.6 L111.85 442.88 L112.06 442.17 L112.31 441.45 L112.6 440.74 L112.92 440.02 L113.27 439.31 L113.63 438.59 L114 437.88 L114.37 437.16 L114.73 436.45 L115.08 435.73 L115.4 435.02 L115.7 434.3 L115.99 433.6 L116.31 432.9 L116.64 432.2 L116.97 431.5 L117.29 430.8 L117.58 430.1 L117.83 429.4 L118.03 428.7 L118.15 428 L118.2 427.3 L118.17 426.58 L118.1 425.87 L118 425.15 L117.86 424.44 L117.71 423.72 L117.54 423.01 L117.36 422.29 L117.19 421.58 L117.04 420.86 L116.9 420.15 L116.8 419.43 L116.73 418.72 L116.7 418 L116.71 417.28 L116.73 416.57 L116.77 415.85 L116.83 415.14 L116.89 414.42 L116.97 413.71 L117.05 412.99 L117.15 412.28 L117.25 411.56 L117.36 410.85 L117.47 410.13 L117.58 409.42 L117.7 408.7 L117.84 407.96 L118.02 407.22 L118.23 406.48 L118.46 405.74 L118.7 405 L118.98 404.25 L119.29 403.5 L119.64 402.75 L120 402 L120.36 401.25 L120.7 400.5Z" fill="#e8919f"/>
<line x1="116.2" y1="434.5" x2="127.2" y2="434.5" stroke="#d0304e" stroke-width="1.0"/>
<line x1="110.7" y1="453.5" x2="132.7" y2="453.5" stroke="#d0304e" stroke-width="1.0"/>
<line x1="112.7" y1="466.5" x2="130.7" y2="466.5" stroke="#d0304e" stroke-width="1.0"/>
<circle cx="121.7" cy="400.5" r="2.15" fill="#b8082a"/>
<circle cx="121.7" cy="413.3" r="2.15" fill="#b8082a"/>
<circle cx="121.7" cy="418.5" r="2.15" fill="#b8082a"/>
<circle cx="121.7" cy="420.3" r="2.15" fill="#b8082a"/>
<circle cx="121.7" cy="432" r="2.15" fill="#b8082a"/>
<circle cx="121.7" cy="444.1" r="2.15" fill="#b8082a"/>
<circle cx="121.7" cy="446" r="2.15" fill="#b8082a"/>
<circle cx="121.7" cy="452.5" r="2.15" fill="#b8082a"/>
<circle cx="121.7" cy="454.8" r="2.15" fill="#b8082a"/>
<circle cx="121.7" cy="464.2" r="2.15" fill="#b8082a"/>
<circle cx="121.7" cy="466.5" r="2.15" fill="#b8082a"/>
<circle cx="121.7" cy="472.8" r="2.15" fill="#b8082a"/>
<circle cx="121.7" cy="475.8" r="2.15" fill="#b8082a"/>
<circle cx="121.7" cy="481" r="2.15" fill="#b8082a"/>
<circle cx="121.7" cy="503.1" r="2.15" fill="#b8082a"/>
<line x1="240.4" y1="366" x2="240.4" y2="526.4" stroke="#231f20" stroke-width="1.25"/>
<line x1="237.4" y1="525.9" x2="442.5" y2="525.9" stroke="#231f20" stroke-width="1.3"/>
<text x="234.3" y="528.3" font-size="8.3" text-anchor="end" font-weight="normal" fill="#231f20" textLength="4.23" lengthAdjust="spacingAndGlyphs">0</text>
<line x1="238.8" y1="511.75" x2="240.4" y2="511.75" stroke="#231f20" stroke-width="0.8"/>
<line x1="237.4" y1="497.6" x2="240.4" y2="497.6" stroke="#231f20" stroke-width="1.25"/>
<text x="234.3" y="500" font-size="8.3" text-anchor="end" font-weight="normal" fill="#231f20" textLength="8.45" lengthAdjust="spacingAndGlyphs">20</text>
<line x1="238.8" y1="483.45" x2="240.4" y2="483.45" stroke="#231f20" stroke-width="0.8"/>
<line x1="237.4" y1="469.3" x2="240.4" y2="469.3" stroke="#231f20" stroke-width="1.25"/>
<text x="234.3" y="471.7" font-size="8.3" text-anchor="end" font-weight="normal" fill="#231f20" textLength="8.45" lengthAdjust="spacingAndGlyphs">40</text>
<line x1="238.8" y1="455.15" x2="240.4" y2="455.15" stroke="#231f20" stroke-width="0.8"/>
<line x1="237.4" y1="441" x2="240.4" y2="441" stroke="#231f20" stroke-width="1.25"/>
<text x="234.3" y="443.4" font-size="8.3" text-anchor="end" font-weight="normal" fill="#231f20" textLength="8.45" lengthAdjust="spacingAndGlyphs">60</text>
<line x1="238.8" y1="426.85" x2="240.4" y2="426.85" stroke="#231f20" stroke-width="0.8"/>
<line x1="237.4" y1="412.7" x2="240.4" y2="412.7" stroke="#231f20" stroke-width="1.25"/>
<text x="234.3" y="415.1" font-size="8.3" text-anchor="end" font-weight="normal" fill="#231f20" textLength="8.45" lengthAdjust="spacingAndGlyphs">80</text>
<line x1="238.8" y1="398.55" x2="240.4" y2="398.55" stroke="#231f20" stroke-width="0.8"/>
<line x1="237.4" y1="384.4" x2="240.4" y2="384.4" stroke="#231f20" stroke-width="1.25"/>
<text x="234.3" y="386.8" font-size="8.3" text-anchor="end" font-weight="normal" fill="#231f20" textLength="12.68" lengthAdjust="spacingAndGlyphs">100</text>
<line x1="238.8" y1="370.25" x2="240.4" y2="370.25" stroke="#231f20" stroke-width="0.8"/>
<line x1="240.4" y1="525.9" x2="240.4" y2="528.5" stroke="#231f20" stroke-width="1.25"/>
<text x="240.4" y="537.8" font-size="8.2" text-anchor="middle" font-weight="normal" fill="#231f20" textLength="4" lengthAdjust="spacingAndGlyphs">0</text>
<line x1="255.65" y1="525.9" x2="255.65" y2="527.5" stroke="#231f20" stroke-width="0.8"/>
<line x1="270.9" y1="525.9" x2="270.9" y2="528.5" stroke="#231f20" stroke-width="1.25"/>
<text x="270.9" y="537.8" font-size="8.2" text-anchor="middle" font-weight="normal" fill="#231f20" textLength="8.01" lengthAdjust="spacingAndGlyphs">12</text>
<line x1="286.15" y1="525.9" x2="286.15" y2="527.5" stroke="#231f20" stroke-width="0.8"/>
<line x1="301.4" y1="525.9" x2="301.4" y2="528.5" stroke="#231f20" stroke-width="1.25"/>
<text x="301.4" y="537.8" font-size="8.2" text-anchor="middle" font-weight="normal" fill="#231f20" textLength="8.01" lengthAdjust="spacingAndGlyphs">24</text>
<line x1="316.65" y1="525.9" x2="316.65" y2="527.5" stroke="#231f20" stroke-width="0.8"/>
<line x1="331.9" y1="525.9" x2="331.9" y2="528.5" stroke="#231f20" stroke-width="1.25"/>
<text x="331.9" y="537.8" font-size="8.2" text-anchor="middle" font-weight="normal" fill="#231f20" textLength="8.01" lengthAdjust="spacingAndGlyphs">36</text>
<line x1="347.15" y1="525.9" x2="347.15" y2="527.5" stroke="#231f20" stroke-width="0.8"/>
<line x1="362.4" y1="525.9" x2="362.4" y2="528.5" stroke="#231f20" stroke-width="1.25"/>
<text x="362.4" y="537.8" font-size="8.2" text-anchor="middle" font-weight="normal" fill="#231f20" textLength="8.01" lengthAdjust="spacingAndGlyphs">48</text>
<line x1="377.65" y1="525.9" x2="377.65" y2="527.5" stroke="#231f20" stroke-width="0.8"/>
<line x1="392.9" y1="525.9" x2="392.9" y2="528.5" stroke="#231f20" stroke-width="1.25"/>
<text x="392.9" y="537.8" font-size="8.2" text-anchor="middle" font-weight="normal" fill="#231f20" textLength="8.01" lengthAdjust="spacingAndGlyphs">60</text>
<line x1="408.15" y1="525.9" x2="408.15" y2="527.5" stroke="#231f20" stroke-width="0.8"/>
<line x1="423.4" y1="525.9" x2="423.4" y2="528.5" stroke="#231f20" stroke-width="1.25"/>
<text x="423.4" y="537.8" font-size="8.2" text-anchor="middle" font-weight="normal" fill="#231f20" textLength="8.01" lengthAdjust="spacingAndGlyphs">72</text>
<line x1="438.65" y1="525.9" x2="438.65" y2="527.5" stroke="#231f20" stroke-width="0.8"/>
<text transform="translate(215.3 446) rotate(-90)" font-size="10" text-anchor="middle" fill="#231f20" textLength="75.5" lengthAdjust="spacingAndGlyphs">% Relapse-free survival</text>
<text x="342.4" y="550.7" font-size="9.8" text-anchor="middle" fill="#231f20" textLength="114.4" lengthAdjust="spacingAndGlyphs">Time following allo-HSCT (months)</text>
<text x="342.7" y="347.1" font-size="9.5" text-anchor="middle" fill="#231f20">%C34 (CD4<tspan font-size="6.5" dy="-3">+</tspan><tspan dy="3">CD161</tspan><tspan font-size="6.5" dy="-3">+</tspan><tspan dy="3">)</tspan></text>
<text x="342.8" y="357.9" font-size="9.5" text-anchor="middle" fill="#231f20">among CD4 T cells (at M3)</text>
<path d="M252.5 392.4 L253.3 403.8 L254.8 403.8 L255.3 416.4 L258.8 416.4 L259.2 429.5 L262.6 429.5 L263 448.6 L269.9 448.6 L269.9 455.4 L271.9 455.4 L271.9 461.5 L283.2 461.5 L283.2 468.5 L288.5 468.5 L288.5 475.8 L295.8 475.8 L295.8 483.1 L301.5 483.1 L301.5 490 L440.4 490" fill="none" stroke="#d21f42" stroke-width="1.4"/>
<path d="M240.4 384.4 L252.2 384.4 L252.2 392.4 L271.5 392.4 L271.5 400.7 L295 400.7 L295 409.6 L310.4 409.6 L310.4 418.5 L418.4 418.5" fill="none" stroke="#1d5896" stroke-width="1.5"/>
<line x1="254.2" y1="392.4" x2="254.2" y2="388.3" stroke="#3a3a3a" stroke-width="0.8"/>
<line x1="288" y1="400.7" x2="288" y2="396.6" stroke="#3a3a3a" stroke-width="0.8"/>
<line x1="310.8" y1="418.5" x2="310.8" y2="414.2" stroke="#3a3a3a" stroke-width="0.8"/>
<line x1="319.6" y1="418.5" x2="319.6" y2="414.2" stroke="#3a3a3a" stroke-width="0.8"/>
<line x1="328.4" y1="418.5" x2="328.4" y2="414.2" stroke="#3a3a3a" stroke-width="0.8"/>
<line x1="331.8" y1="418.5" x2="331.8" y2="414.2" stroke="#3a3a3a" stroke-width="0.8"/>
<line x1="338.1" y1="418.5" x2="338.1" y2="414.2" stroke="#3a3a3a" stroke-width="0.8"/>
<line x1="348.5" y1="418.5" x2="348.5" y2="414.2" stroke="#3a3a3a" stroke-width="0.8"/>
<line x1="358.8" y1="418.5" x2="358.8" y2="414.2" stroke="#3a3a3a" stroke-width="0.8"/>
<line x1="362.8" y1="418.5" x2="362.8" y2="414.2" stroke="#3a3a3a" stroke-width="0.8"/>
<line x1="369.2" y1="418.5" x2="369.2" y2="414.2" stroke="#3a3a3a" stroke-width="0.8"/>
<line x1="373.2" y1="418.5" x2="373.2" y2="414.2" stroke="#3a3a3a" stroke-width="0.8"/>
<line x1="391.6" y1="418.5" x2="391.6" y2="414.2" stroke="#3a3a3a" stroke-width="0.8"/>
<line x1="418.4" y1="418.5" x2="418.4" y2="414.2" stroke="#3a3a3a" stroke-width="0.8"/>
<line x1="279.9" y1="461.5" x2="279.9" y2="457.4" stroke="#3a3a3a" stroke-width="0.8"/>
<line x1="330" y1="490" x2="330" y2="485.9" stroke="#3a3a3a" stroke-width="0.8"/>
<line x1="355.5" y1="490" x2="355.5" y2="485.9" stroke="#3a3a3a" stroke-width="0.8"/>
<line x1="398" y1="490" x2="398" y2="485.9" stroke="#3a3a3a" stroke-width="0.8"/>
<line x1="406.7" y1="490" x2="406.7" y2="485.9" stroke="#3a3a3a" stroke-width="0.8"/>
<line x1="440.4" y1="490" x2="440.4" y2="485.9" stroke="#3a3a3a" stroke-width="0.8"/>
<line x1="451.2" y1="375.2" x2="466.2" y2="375.2" stroke="#1d5896" stroke-width="1.5"/>
<line x1="458.8" y1="375.2" x2="458.8" y2="370.6" stroke="#3a3a3a" stroke-width="0.8"/>
<line x1="451.2" y1="389.1" x2="466.2" y2="389.1" stroke="#d21f42" stroke-width="1.5"/>
<line x1="458.8" y1="389.1" x2="458.8" y2="384.5" stroke="#3a3a3a" stroke-width="0.8"/>
<text x="469.2" y="377.5" font-size="8.6" fill="#231f20" textLength="35.1" lengthAdjust="spacingAndGlyphs">Low %C34</text>
<text x="469.2" y="391.4" font-size="8.6" fill="#231f20" textLength="37.4" lengthAdjust="spacingAndGlyphs">High %C34</text>
<text x="453.5" y="404.6" font-size="8.6" fill="#231f20" textLength="40.5" lengthAdjust="spacingAndGlyphs">** p=0.0013</text>
<rect x="0.5" y="0.5" width="519" height="557" fill="none" stroke="#000" stroke-width="1.2"/>
</svg>
</body></html>
